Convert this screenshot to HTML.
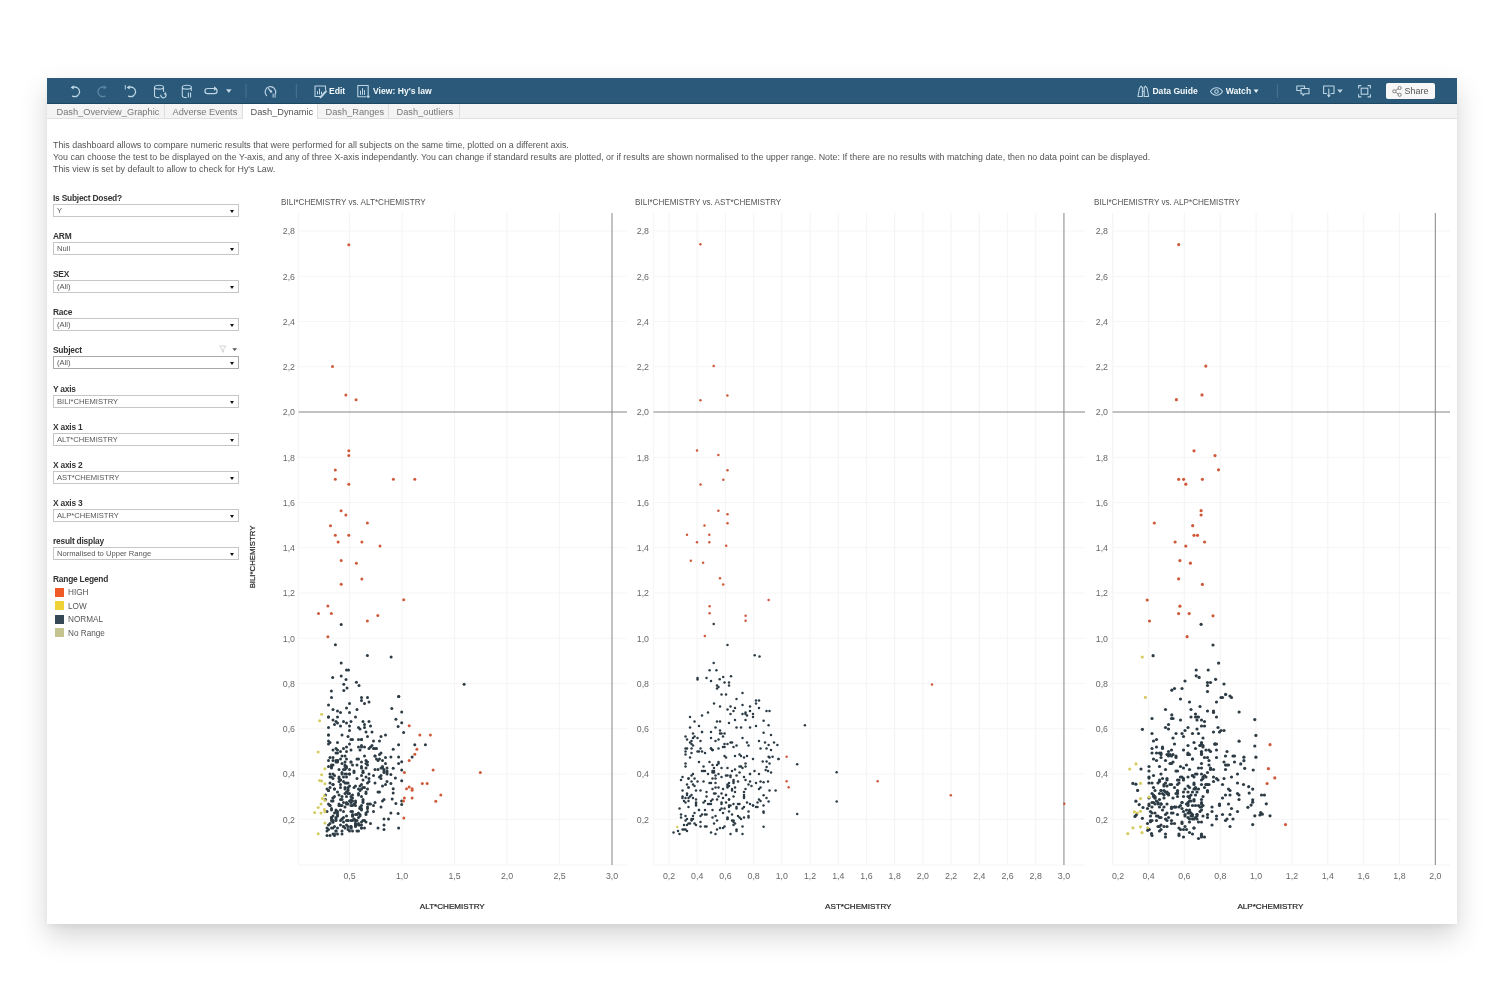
<!DOCTYPE html><html><head><meta charset="utf-8"><style>
*{margin:0;padding:0;box-sizing:border-box}
html,body{width:1504px;height:1002px;overflow:hidden;background:#fff;font-family:"Liberation Sans",sans-serif}
body{filter:blur(0.3px)}
.a{position:absolute;white-space:nowrap}
#frame{position:absolute;left:47px;top:78px;width:1410px;height:846px;background:#fff;box-shadow:0 12px 26px rgba(0,0,0,0.17),0 3px 5px rgba(0,0,0,0.04)}
#tb{position:absolute;left:47px;top:78px;width:1410px;height:26px;background:#2a5979;border-bottom:1px solid #1d4862}
#tabs{position:absolute;left:47px;top:104px;width:1410px;height:15px;background:#f4f4f4;border-bottom:1px solid #e0e0e0}
.tab{position:absolute;top:104px;height:14px;font-size:9.25px;color:#777;line-height:14px;border-right:1px solid #dedede;padding-left:6px}
.desc{font-size:8.9px;color:#555;line-height:12px}
.fl{font-size:8.4px;color:#333;font-weight:bold;letter-spacing:-0.22px}
.dd{position:absolute;left:53px;width:186px;height:13px;border:1px solid #c6c6c6;background:#fff;font-size:7.6px;color:#555;line-height:11px;padding-left:3px}
.dd:after{content:"";position:absolute;right:4px;top:5px;border-left:2.5px solid transparent;border-right:2.5px solid transparent;border-top:3px solid #111}
.lg{font-size:8.2px;color:#555}
.tw{color:#f4f8fb;font-weight:bold;font-size:8.6px}
.ct{font-size:8.15px;color:#555}
.al{font-size:8.8px;color:#686868}
.xt{font-size:8.1px;color:#1e1e1e;-webkit-text-stroke:0.2px #1e1e1e}
</style></head><body>
<div id="frame"></div><div id="tb"></div><div id="tabs"></div>
<div class="a tab" style="left:49px;width:116px;"><span style="position:absolute;left:7.5px;top:0.5px">Dash_Overview_Graphic</span></div>
<div class="a tab" style="left:165px;width:78px;"><span style="position:absolute;left:7.5px;top:0.5px">Adverse Events</span></div>
<div class="a tab" style="left:243px;width:75px;background:#fff;height:15px;color:#555;"><span style="position:absolute;left:7.5px;top:0.5px">Dash_Dynamic</span></div>
<div class="a tab" style="left:318px;width:71px;"><span style="position:absolute;left:7.5px;top:0.5px">Dash_Ranges</span></div>
<div class="a tab" style="left:389px;width:71px;"><span style="position:absolute;left:7.5px;top:0.5px">Dash_outliers</span></div>
<div class="a desc" style="left:53px;top:139.0px">This dashboard allows to compare numeric results that were performed for all subjects on the same time, plotted on a different axis.</div>
<div class="a desc" style="left:53px;top:151.1px">You can choose the test to be displayed on the Y-axis, and any of three X-axis independantly. You can change if standard results are plotted, or if results are shown normalised to the upper range. Note: If there are no results with matching date, then no data point can be displayed.</div>
<div class="a desc" style="left:53px;top:163.2px">This view is set by default to allow to check for Hy's Law.</div>
<div class="a fl" style="left:53px;top:193.0px">Is Subject Dosed?</div>
<div class="dd" style="top:204.0px;">Y</div>
<div class="a fl" style="left:53px;top:231.1px">ARM</div>
<div class="dd" style="top:242.1px;">Null</div>
<div class="a fl" style="left:53px;top:269.2px">SEX</div>
<div class="dd" style="top:280.2px;">(All)</div>
<div class="a fl" style="left:53px;top:307.3px">Race</div>
<div class="dd" style="top:318.3px;">(All)</div>
<div class="a fl" style="left:53px;top:345.4px">Subject</div>
<div class="dd" style="top:356.4px;border-color:#a9a9a9;">(All)</div>
<div class="a fl" style="left:53px;top:383.5px">Y axis</div>
<div class="dd" style="top:394.5px;">BILI*CHEMISTRY</div>
<div class="a fl" style="left:53px;top:421.6px">X axis 1</div>
<div class="dd" style="top:432.6px;">ALT*CHEMISTRY</div>
<div class="a fl" style="left:53px;top:459.7px">X axis 2</div>
<div class="dd" style="top:470.7px;">AST*CHEMISTRY</div>
<div class="a fl" style="left:53px;top:497.8px">X axis 3</div>
<div class="dd" style="top:508.8px;">ALP*CHEMISTRY</div>
<div class="a fl" style="left:53px;top:535.9000000000001px">result display</div>
<div class="dd" style="top:546.9000000000001px;">Normalised to Upper Range</div>
<svg class="a" style="left:216px;top:343px" width="24" height="12"><path d="M3.6 3h6.4l-2.4 3.2v3l-1.6-0.8v-2.2z" fill="none" stroke="#d0d0d0" stroke-width="0.9"/><path d="M16.3 5.2h4.8l-2.4 2.8z" fill="#555"/></svg>
<div class="a fl" style="left:53px;top:574px">Range Legend</div>
<div class="a" style="left:55px;top:587.5px;width:9px;height:9px;background:#f05a28"></div>
<div class="a lg" style="left:68px;top:588.0px">HIGH</div>
<div class="a" style="left:55px;top:601.1px;width:9px;height:9px;background:#eed236"></div>
<div class="a lg" style="left:68px;top:601.6px">LOW</div>
<div class="a" style="left:55px;top:614.7px;width:9px;height:9px;background:#364756"></div>
<div class="a lg" style="left:68px;top:615.2px">NORMAL</div>
<div class="a" style="left:55px;top:628.3px;width:9px;height:9px;background:#c5c38f"></div>
<div class="a lg" style="left:68px;top:628.8px">No Range</div>
<svg class="a" style="left:0;top:78px" width="1504" height="26"><path d="M72.5 9.5 A5 4.8 0 1 1 72.5 18.2" fill="none" stroke="#bdd5e5" stroke-width="1.3" stroke-linecap="round" stroke-linejoin="round"/><path d="M70.6 9.6 L73.6 7.2 L73.8 11.6 Z" fill="#bdd5e5"/><path d="M105 9.5 A5 4.8 0 1 0 105 18.2" fill="none" stroke="#5b86a2" stroke-width="1.3" stroke-linecap="round" stroke-linejoin="round"/><path d="M106.8 9.6 L103.8 7.2 L103.6 11.6 Z" fill="#5b86a2"/><path d="M128.5 9.5 A5 4.8 0 1 1 128.5 18.2" fill="none" stroke="#bdd5e5" stroke-width="1.3" stroke-linecap="round" stroke-linejoin="round"/><path d="M126.6 9.6 L129.6 7.2 L129.8 11.6 Z" fill="#bdd5e5"/><path d="M125.3 7.5 V11" fill="none" stroke="#bdd5e5" stroke-width="1.0" stroke-linecap="round" stroke-linejoin="round"/><path d="M154.5 9.2 C154.5 6.6 163.5 6.6 163.5 9.2 C163.5 11.8 154.5 11.8 154.5 9.2 V17.5 C154.5 19.2 157 19.6 159 19.6 M163.5 9.2 V13.5" fill="none" stroke="#bdd5e5" stroke-width="1.1" stroke-linecap="round" stroke-linejoin="round"/><path d="M160.8 17.2 A2.6 2.6 0 1 0 165.8 16.2" fill="none" stroke="#bdd5e5" stroke-width="1.2" stroke-linecap="round" stroke-linejoin="round"/><path d="M165.9 13.8 L166.4 17 L163.6 16.2 Z" fill="#bdd5e5"/><path d="M182.3 9.2 C182.3 6.6 191.3 6.6 191.3 9.2 C191.3 11.8 182.3 11.8 182.3 9.2 V17.5 C182.3 19.2 184.8 19.6 186.2 19.6 M191.3 9.2 V12.5" fill="none" stroke="#bdd5e5" stroke-width="1.1" stroke-linecap="round" stroke-linejoin="round"/><rect x="187.8" y="14.5" width="1.1" height="5" fill="#bdd5e5"/><rect x="190" y="14.5" width="1.1" height="5" fill="#bdd5e5"/><path d="M208.5 10.5 H214.5 A2.6 2.6 0 0 1 214.5 15.7 H207.5 A2.6 2.6 0 0 1 207.5 10.5" fill="none" stroke="#bdd5e5" stroke-width="1.2" stroke-linecap="round" stroke-linejoin="round"/><path d="M214 8.2 L217 10.5 L214 12.8 Z" fill="#bdd5e5"/><path d="M226 11.3 H231.6 L228.8 15 Z" fill="#bdd5e5"/><line x1="246" y1="6" x2="246" y2="20" stroke="#4a7492" stroke-width="1"/><path d="M266.5 17.5 A5.3 5.3 0 1 1 275.5 15.5" fill="none" stroke="#bdd5e5" stroke-width="1.2" stroke-linecap="round" stroke-linejoin="round"/><path d="M268.5 10.8 L271 13.4" fill="none" stroke="#bdd5e5" stroke-width="1.3" stroke-linecap="round" stroke-linejoin="round"/><circle cx="271" cy="13.5" r="1.2" fill="#bdd5e5"/><rect x="272.6" y="15.6" width="1" height="4" fill="#bdd5e5"/><rect x="274.6" y="15.6" width="1" height="4" fill="#bdd5e5"/><line x1="296.3" y1="6" x2="296.3" y2="20" stroke="#4a7492" stroke-width="1"/><path d="M321.5 18.5 H315 V8 H325.5 V11.5" fill="none" stroke="#bdd5e5" stroke-width="1.1" stroke-linecap="round" stroke-linejoin="round"/><path d="M317.5 16 V13.5 M319.5 16 V11 M321.5 16 V14" fill="none" stroke="#bdd5e5" stroke-width="1" stroke-linecap="round" stroke-linejoin="round"/><path d="M320.5 19.2 L326 13.2" fill="none" stroke="#bdd5e5" stroke-width="2.0" stroke-linecap="round" stroke-linejoin="round"/><path d="M357.8 7.5 H368.2 V17 M366 18.8 H357.8 V7.5" fill="none" stroke="#bdd5e5" stroke-width="1.1" stroke-linecap="round" stroke-linejoin="round"/><path d="M360.5 16.5 V13 M362.5 16.5 V10.5 M364.5 16.5 V12.5" fill="none" stroke="#bdd5e5" stroke-width="1" stroke-linecap="round" stroke-linejoin="round"/><circle cx="368.2" cy="18.6" r="1.4" fill="#bdd5e5"/><path d="M1138 18.5 L1139.4 10.5 L1141 8.2 L1142.4 9.5 V18.5 Z M1148.6 18.5 L1147.2 10.5 L1145.6 8.2 L1144.2 9.5 V18.5 Z M1142.4 13.5 H1144.2" fill="none" stroke="#bdd5e5" stroke-width="1.1" stroke-linecap="round" stroke-linejoin="round"/><path d="M1210.5 13.5 C1213.5 8.5 1219.5 8.5 1222.5 13.5 C1219.5 18.5 1213.5 18.5 1210.5 13.5 Z" fill="none" stroke="#bdd5e5" stroke-width="1.1" stroke-linecap="round" stroke-linejoin="round"/><circle cx="1216.5" cy="13.5" r="1.8" fill="none" stroke="#bdd5e5" stroke-width="1.1"/><path d="M1253.6 11.5 H1258.6 L1256.1 15 Z" fill="#e8f0f5"/><line x1="1277.4" y1="6" x2="1277.4" y2="20" stroke="#4a7492" stroke-width="1"/><path d="M1300.5 12.5 H1296.8 V8 H1304.5 V10" fill="none" stroke="#bdd5e5" stroke-width="1.1" stroke-linecap="round" stroke-linejoin="round"/><path d="M1301 10.5 H1309 V15.8 H1304.5 L1303 17.5 V15.8 H1301 Z" fill="none" stroke="#bdd5e5" stroke-width="1.1" stroke-linecap="round" stroke-linejoin="round"/><path d="M1326.5 15.5 H1323.6 V8 H1334 V15.5 H1331" fill="none" stroke="#bdd5e5" stroke-width="1.1" stroke-linecap="round" stroke-linejoin="round"/><path d="M1328.8 11 V18.5" fill="none" stroke="#bdd5e5" stroke-width="1.1" stroke-linecap="round" stroke-linejoin="round"/><path d="M1326.8 16.8 H1330.8 L1328.8 19.6 Z" fill="#bdd5e5"/><path d="M1337.2 11.6 H1342.8 L1340 15 Z" fill="#bdd5e5"/><path d="M1358.6 10 V7.6 H1361 M1368 7.6 H1370.4 V10 M1370.4 16.5 V18.9 H1368 M1361 18.9 H1358.6 V16.5" fill="none" stroke="#bdd5e5" stroke-width="1.1" stroke-linecap="round" stroke-linejoin="round"/><rect x="1361.2" y="10.2" width="6.6" height="6" fill="none" stroke="#bdd5e5" stroke-width="1.1"/></svg><div class="a tw" style="left:329px;top:86.2px">Edit</div><div class="a tw" style="left:373px;top:86.2px">View: Hy's law</div><div class="a tw" style="left:1152.4px;top:86.2px">Data Guide</div><div class="a tw" style="left:1225.7px;top:86.2px">Watch</div><div class="a" style="left:1386px;top:83px;width:49px;height:16px;background:#f7f7f7;border-radius:2px"></div><svg class="a" style="left:1390px;top:83px" width="14" height="16"><g fill="none" stroke="#777" stroke-width="0.9"><circle cx="4.3" cy="8.3" r="1.6"/><circle cx="9.6" cy="5" r="1.6"/><circle cx="9.6" cy="11.8" r="1.6"/><path d="M5.7 7.4 L8.2 5.8 M5.7 9.2 L8.2 10.9"/></g></svg><div class="a" style="left:1404.5px;top:85.5px;font-size:9px;color:#555">Share</div>
<svg class="a" style="left:0;top:0" width="1504" height="1002" shape-rendering="auto"><line x1="298.5" y1="819.25" x2="627" y2="819.25" stroke="#f5f5f5" stroke-width="1.2"/><line x1="298.5" y1="774.00" x2="627" y2="774.00" stroke="#f5f5f5" stroke-width="1.2"/><line x1="298.5" y1="728.75" x2="627" y2="728.75" stroke="#f5f5f5" stroke-width="1.2"/><line x1="298.5" y1="683.50" x2="627" y2="683.50" stroke="#f5f5f5" stroke-width="1.2"/><line x1="298.5" y1="638.25" x2="627" y2="638.25" stroke="#f5f5f5" stroke-width="1.2"/><line x1="298.5" y1="593.00" x2="627" y2="593.00" stroke="#f5f5f5" stroke-width="1.2"/><line x1="298.5" y1="547.75" x2="627" y2="547.75" stroke="#f5f5f5" stroke-width="1.2"/><line x1="298.5" y1="502.50" x2="627" y2="502.50" stroke="#f5f5f5" stroke-width="1.2"/><line x1="298.5" y1="457.25" x2="627" y2="457.25" stroke="#f5f5f5" stroke-width="1.2"/><line x1="298.5" y1="366.75" x2="627" y2="366.75" stroke="#f5f5f5" stroke-width="1.2"/><line x1="298.5" y1="321.50" x2="627" y2="321.50" stroke="#f5f5f5" stroke-width="1.2"/><line x1="298.5" y1="276.25" x2="627" y2="276.25" stroke="#f5f5f5" stroke-width="1.2"/><line x1="298.5" y1="231.00" x2="627" y2="231.00" stroke="#f5f5f5" stroke-width="1.2"/><line x1="298.5" y1="865" x2="627" y2="865" stroke="#f6f6f6" stroke-width="1.2"/><line x1="298.5" y1="213" x2="298.5" y2="865" stroke="#f6f6f6" stroke-width="1.2"/><line x1="349.50" y1="213" x2="349.50" y2="865" stroke="#f5f5f5" stroke-width="1.2"/><line x1="402.00" y1="213" x2="402.00" y2="865" stroke="#f5f5f5" stroke-width="1.2"/><line x1="454.50" y1="213" x2="454.50" y2="865" stroke="#f5f5f5" stroke-width="1.2"/><line x1="507.00" y1="213" x2="507.00" y2="865" stroke="#f5f5f5" stroke-width="1.2"/><line x1="559.50" y1="213" x2="559.50" y2="865" stroke="#f5f5f5" stroke-width="1.2"/><line x1="298.5" y1="412.00" x2="627" y2="412.00" stroke="#858585" stroke-width="1"/><line x1="612.00" y1="213" x2="612.00" y2="865" stroke="#858585" stroke-width="1"/><line x1="653.5" y1="819.25" x2="1085" y2="819.25" stroke="#f5f5f5" stroke-width="1.2"/><line x1="653.5" y1="774.00" x2="1085" y2="774.00" stroke="#f5f5f5" stroke-width="1.2"/><line x1="653.5" y1="728.75" x2="1085" y2="728.75" stroke="#f5f5f5" stroke-width="1.2"/><line x1="653.5" y1="683.50" x2="1085" y2="683.50" stroke="#f5f5f5" stroke-width="1.2"/><line x1="653.5" y1="638.25" x2="1085" y2="638.25" stroke="#f5f5f5" stroke-width="1.2"/><line x1="653.5" y1="593.00" x2="1085" y2="593.00" stroke="#f5f5f5" stroke-width="1.2"/><line x1="653.5" y1="547.75" x2="1085" y2="547.75" stroke="#f5f5f5" stroke-width="1.2"/><line x1="653.5" y1="502.50" x2="1085" y2="502.50" stroke="#f5f5f5" stroke-width="1.2"/><line x1="653.5" y1="457.25" x2="1085" y2="457.25" stroke="#f5f5f5" stroke-width="1.2"/><line x1="653.5" y1="366.75" x2="1085" y2="366.75" stroke="#f5f5f5" stroke-width="1.2"/><line x1="653.5" y1="321.50" x2="1085" y2="321.50" stroke="#f5f5f5" stroke-width="1.2"/><line x1="653.5" y1="276.25" x2="1085" y2="276.25" stroke="#f5f5f5" stroke-width="1.2"/><line x1="653.5" y1="231.00" x2="1085" y2="231.00" stroke="#f5f5f5" stroke-width="1.2"/><line x1="653.5" y1="865" x2="1085" y2="865" stroke="#f6f6f6" stroke-width="1.2"/><line x1="653.5" y1="213" x2="653.5" y2="865" stroke="#f6f6f6" stroke-width="1.2"/><line x1="669.01" y1="213" x2="669.01" y2="865" stroke="#f5f5f5" stroke-width="1.2"/><line x1="697.22" y1="213" x2="697.22" y2="865" stroke="#f5f5f5" stroke-width="1.2"/><line x1="725.43" y1="213" x2="725.43" y2="865" stroke="#f5f5f5" stroke-width="1.2"/><line x1="753.64" y1="213" x2="753.64" y2="865" stroke="#f5f5f5" stroke-width="1.2"/><line x1="781.85" y1="213" x2="781.85" y2="865" stroke="#f5f5f5" stroke-width="1.2"/><line x1="810.06" y1="213" x2="810.06" y2="865" stroke="#f5f5f5" stroke-width="1.2"/><line x1="838.27" y1="213" x2="838.27" y2="865" stroke="#f5f5f5" stroke-width="1.2"/><line x1="866.48" y1="213" x2="866.48" y2="865" stroke="#f5f5f5" stroke-width="1.2"/><line x1="894.69" y1="213" x2="894.69" y2="865" stroke="#f5f5f5" stroke-width="1.2"/><line x1="922.90" y1="213" x2="922.90" y2="865" stroke="#f5f5f5" stroke-width="1.2"/><line x1="951.11" y1="213" x2="951.11" y2="865" stroke="#f5f5f5" stroke-width="1.2"/><line x1="979.32" y1="213" x2="979.32" y2="865" stroke="#f5f5f5" stroke-width="1.2"/><line x1="1007.53" y1="213" x2="1007.53" y2="865" stroke="#f5f5f5" stroke-width="1.2"/><line x1="1035.74" y1="213" x2="1035.74" y2="865" stroke="#f5f5f5" stroke-width="1.2"/><line x1="653.5" y1="412.00" x2="1085" y2="412.00" stroke="#858585" stroke-width="1"/><line x1="1063.95" y1="213" x2="1063.95" y2="865" stroke="#858585" stroke-width="1"/><line x1="1112.5" y1="819.25" x2="1450" y2="819.25" stroke="#f5f5f5" stroke-width="1.2"/><line x1="1112.5" y1="774.00" x2="1450" y2="774.00" stroke="#f5f5f5" stroke-width="1.2"/><line x1="1112.5" y1="728.75" x2="1450" y2="728.75" stroke="#f5f5f5" stroke-width="1.2"/><line x1="1112.5" y1="683.50" x2="1450" y2="683.50" stroke="#f5f5f5" stroke-width="1.2"/><line x1="1112.5" y1="638.25" x2="1450" y2="638.25" stroke="#f5f5f5" stroke-width="1.2"/><line x1="1112.5" y1="593.00" x2="1450" y2="593.00" stroke="#f5f5f5" stroke-width="1.2"/><line x1="1112.5" y1="547.75" x2="1450" y2="547.75" stroke="#f5f5f5" stroke-width="1.2"/><line x1="1112.5" y1="502.50" x2="1450" y2="502.50" stroke="#f5f5f5" stroke-width="1.2"/><line x1="1112.5" y1="457.25" x2="1450" y2="457.25" stroke="#f5f5f5" stroke-width="1.2"/><line x1="1112.5" y1="366.75" x2="1450" y2="366.75" stroke="#f5f5f5" stroke-width="1.2"/><line x1="1112.5" y1="321.50" x2="1450" y2="321.50" stroke="#f5f5f5" stroke-width="1.2"/><line x1="1112.5" y1="276.25" x2="1450" y2="276.25" stroke="#f5f5f5" stroke-width="1.2"/><line x1="1112.5" y1="231.00" x2="1450" y2="231.00" stroke="#f5f5f5" stroke-width="1.2"/><line x1="1112.5" y1="865" x2="1450" y2="865" stroke="#f6f6f6" stroke-width="1.2"/><line x1="1112.5" y1="213" x2="1112.5" y2="865" stroke="#f6f6f6" stroke-width="1.2"/><line x1="1112.74" y1="213" x2="1112.74" y2="865" stroke="#f5f5f5" stroke-width="1.2"/><line x1="1148.58" y1="213" x2="1148.58" y2="865" stroke="#f5f5f5" stroke-width="1.2"/><line x1="1184.42" y1="213" x2="1184.42" y2="865" stroke="#f5f5f5" stroke-width="1.2"/><line x1="1220.26" y1="213" x2="1220.26" y2="865" stroke="#f5f5f5" stroke-width="1.2"/><line x1="1256.10" y1="213" x2="1256.10" y2="865" stroke="#f5f5f5" stroke-width="1.2"/><line x1="1291.94" y1="213" x2="1291.94" y2="865" stroke="#f5f5f5" stroke-width="1.2"/><line x1="1327.78" y1="213" x2="1327.78" y2="865" stroke="#f5f5f5" stroke-width="1.2"/><line x1="1363.62" y1="213" x2="1363.62" y2="865" stroke="#f5f5f5" stroke-width="1.2"/><line x1="1399.46" y1="213" x2="1399.46" y2="865" stroke="#f5f5f5" stroke-width="1.2"/><line x1="1112.5" y1="412.00" x2="1450" y2="412.00" stroke="#858585" stroke-width="1"/><line x1="1435.30" y1="213" x2="1435.30" y2="865" stroke="#858585" stroke-width="1"/></svg>
<div class="a ct" style="left:281px;top:198px">BILI*CHEMISTRY vs. ALT*CHEMISTRY</div><div class="a al" style="right:1209px;top:814.65px">0,2</div><div class="a al" style="right:1209px;top:769.40px">0,4</div><div class="a al" style="right:1209px;top:724.15px">0,6</div><div class="a al" style="right:1209px;top:678.90px">0,8</div><div class="a al" style="right:1209px;top:633.65px">1,0</div><div class="a al" style="right:1209px;top:588.40px">1,2</div><div class="a al" style="right:1209px;top:543.15px">1,4</div><div class="a al" style="right:1209px;top:497.90px">1,6</div><div class="a al" style="right:1209px;top:452.65px">1,8</div><div class="a al" style="right:1209px;top:407.40px">2,0</div><div class="a al" style="right:1209px;top:362.15px">2,2</div><div class="a al" style="right:1209px;top:316.90px">2,4</div><div class="a al" style="right:1209px;top:271.65px">2,6</div><div class="a al" style="right:1209px;top:226.40px">2,8</div><div class="a al" style="left:329.50px;width:40px;text-align:center;top:870.5px">0,5</div><div class="a al" style="left:382.00px;width:40px;text-align:center;top:870.5px">1,0</div><div class="a al" style="left:434.50px;width:40px;text-align:center;top:870.5px">1,5</div><div class="a al" style="left:487.00px;width:40px;text-align:center;top:870.5px">2,0</div><div class="a al" style="left:539.50px;width:40px;text-align:center;top:870.5px">2,5</div><div class="a al" style="left:592.00px;width:40px;text-align:center;top:870.5px">3,0</div><div class="a xt" style="left:392.3px;width:120px;text-align:center;top:901.5px">ALT*CHEMISTRY</div><div class="a ct" style="left:635px;top:198px">BILI*CHEMISTRY vs. AST*CHEMISTRY</div><div class="a al" style="right:855px;top:814.65px">0,2</div><div class="a al" style="right:855px;top:769.40px">0,4</div><div class="a al" style="right:855px;top:724.15px">0,6</div><div class="a al" style="right:855px;top:678.90px">0,8</div><div class="a al" style="right:855px;top:633.65px">1,0</div><div class="a al" style="right:855px;top:588.40px">1,2</div><div class="a al" style="right:855px;top:543.15px">1,4</div><div class="a al" style="right:855px;top:497.90px">1,6</div><div class="a al" style="right:855px;top:452.65px">1,8</div><div class="a al" style="right:855px;top:407.40px">2,0</div><div class="a al" style="right:855px;top:362.15px">2,2</div><div class="a al" style="right:855px;top:316.90px">2,4</div><div class="a al" style="right:855px;top:271.65px">2,6</div><div class="a al" style="right:855px;top:226.40px">2,8</div><div class="a al" style="left:649.01px;width:40px;text-align:center;top:870.5px">0,2</div><div class="a al" style="left:677.22px;width:40px;text-align:center;top:870.5px">0,4</div><div class="a al" style="left:705.43px;width:40px;text-align:center;top:870.5px">0,6</div><div class="a al" style="left:733.64px;width:40px;text-align:center;top:870.5px">0,8</div><div class="a al" style="left:761.85px;width:40px;text-align:center;top:870.5px">1,0</div><div class="a al" style="left:790.06px;width:40px;text-align:center;top:870.5px">1,2</div><div class="a al" style="left:818.27px;width:40px;text-align:center;top:870.5px">1,4</div><div class="a al" style="left:846.48px;width:40px;text-align:center;top:870.5px">1,6</div><div class="a al" style="left:874.69px;width:40px;text-align:center;top:870.5px">1,8</div><div class="a al" style="left:902.90px;width:40px;text-align:center;top:870.5px">2,0</div><div class="a al" style="left:931.11px;width:40px;text-align:center;top:870.5px">2,2</div><div class="a al" style="left:959.32px;width:40px;text-align:center;top:870.5px">2,4</div><div class="a al" style="left:987.53px;width:40px;text-align:center;top:870.5px">2,6</div><div class="a al" style="left:1015.74px;width:40px;text-align:center;top:870.5px">2,8</div><div class="a al" style="left:1043.95px;width:40px;text-align:center;top:870.5px">3,0</div><div class="a xt" style="left:798.3px;width:120px;text-align:center;top:901.5px">AST*CHEMISTRY</div><div class="a ct" style="left:1094px;top:198px">BILI*CHEMISTRY vs. ALP*CHEMISTRY</div><div class="a al" style="right:396px;top:814.65px">0,2</div><div class="a al" style="right:396px;top:769.40px">0,4</div><div class="a al" style="right:396px;top:724.15px">0,6</div><div class="a al" style="right:396px;top:678.90px">0,8</div><div class="a al" style="right:396px;top:633.65px">1,0</div><div class="a al" style="right:396px;top:588.40px">1,2</div><div class="a al" style="right:396px;top:543.15px">1,4</div><div class="a al" style="right:396px;top:497.90px">1,6</div><div class="a al" style="right:396px;top:452.65px">1,8</div><div class="a al" style="right:396px;top:407.40px">2,0</div><div class="a al" style="right:396px;top:362.15px">2,2</div><div class="a al" style="right:396px;top:316.90px">2,4</div><div class="a al" style="right:396px;top:271.65px">2,6</div><div class="a al" style="right:396px;top:226.40px">2,8</div><div class="a al" style="left:1098.00px;width:40px;text-align:center;top:870.5px">0,2</div><div class="a al" style="left:1128.58px;width:40px;text-align:center;top:870.5px">0,4</div><div class="a al" style="left:1164.42px;width:40px;text-align:center;top:870.5px">0,6</div><div class="a al" style="left:1200.26px;width:40px;text-align:center;top:870.5px">0,8</div><div class="a al" style="left:1236.10px;width:40px;text-align:center;top:870.5px">1,0</div><div class="a al" style="left:1271.94px;width:40px;text-align:center;top:870.5px">1,2</div><div class="a al" style="left:1307.78px;width:40px;text-align:center;top:870.5px">1,4</div><div class="a al" style="left:1343.62px;width:40px;text-align:center;top:870.5px">1,6</div><div class="a al" style="left:1379.46px;width:40px;text-align:center;top:870.5px">1,8</div><div class="a al" style="left:1415.30px;width:40px;text-align:center;top:870.5px">2,0</div><div class="a xt" style="left:1210.4px;width:120px;text-align:center;top:901.5px">ALP*CHEMISTRY</div><div class="a xt" style="left:252.3px;top:556.5px;font-size:7.8px;transform:translate(-50%,-50%) rotate(-90deg)">BILI*CHEMISTRY</div>
<svg class="a" style="left:0;top:0" width="1504" height="1002"><circle cx="333.0" cy="709.5" r="1.5" fill="#2c3b44"/><circle cx="361.5" cy="700.5" r="1.5" fill="#2c3b44"/><circle cx="349.5" cy="703.5" r="1.5" fill="#2c3b44"/><circle cx="357.0" cy="709.5" r="1.5" fill="#2c3b44"/><circle cx="331.5" cy="697.5" r="1.5" fill="#2c3b44"/><circle cx="364.5" cy="703.5" r="1.5" fill="#2c3b44"/><circle cx="361.5" cy="697.5" r="1.5" fill="#2c3b44"/><circle cx="346.5" cy="708.0" r="1.5" fill="#2c3b44"/><circle cx="337.5" cy="711.0" r="1.5" fill="#2c3b44"/><circle cx="367.5" cy="697.5" r="1.5" fill="#2c3b44"/><circle cx="328.5" cy="705.0" r="1.5" fill="#2c3b44"/><circle cx="369.0" cy="702.0" r="1.5" fill="#2c3b44"/><circle cx="336.0" cy="721.5" r="1.5" fill="#2c3b44"/><circle cx="328.5" cy="717.0" r="1.5" fill="#2c3b44"/><circle cx="346.5" cy="723.0" r="1.5" fill="#2c3b44"/><circle cx="337.5" cy="717.0" r="1.5" fill="#2c3b44"/><circle cx="337.5" cy="723.0" r="1.5" fill="#2c3b44"/><circle cx="340.5" cy="712.5" r="1.5" fill="#2c3b44"/><circle cx="364.5" cy="724.5" r="1.5" fill="#2c3b44"/><circle cx="355.5" cy="717.0" r="1.5" fill="#2c3b44"/><circle cx="372.0" cy="732.0" r="1.5" fill="#2c3b44"/><circle cx="333.0" cy="720.0" r="1.5" fill="#2c3b44"/><circle cx="360.0" cy="729.0" r="1.5" fill="#2c3b44"/><circle cx="369.0" cy="721.5" r="1.5" fill="#2c3b44"/><circle cx="364.5" cy="727.5" r="1.5" fill="#2c3b44"/><circle cx="340.5" cy="726.0" r="1.5" fill="#2c3b44"/><circle cx="366.0" cy="732.0" r="1.5" fill="#2c3b44"/><circle cx="349.5" cy="726.0" r="1.5" fill="#2c3b44"/><circle cx="328.5" cy="717.0" r="1.5" fill="#2c3b44"/><circle cx="363.0" cy="721.5" r="1.5" fill="#2c3b44"/><circle cx="334.5" cy="724.5" r="1.5" fill="#2c3b44"/><circle cx="358.5" cy="727.5" r="1.5" fill="#2c3b44"/><circle cx="343.5" cy="721.5" r="1.5" fill="#2c3b44"/><circle cx="349.5" cy="730.5" r="1.5" fill="#2c3b44"/><circle cx="351.0" cy="721.5" r="1.5" fill="#2c3b44"/><circle cx="349.5" cy="712.5" r="1.5" fill="#2c3b44"/><circle cx="328.5" cy="727.5" r="1.5" fill="#2c3b44"/><circle cx="370.5" cy="726.0" r="1.5" fill="#2c3b44"/><circle cx="351.0" cy="739.5" r="1.5" fill="#2c3b44"/><circle cx="357.0" cy="759.0" r="1.5" fill="#2c3b44"/><circle cx="373.5" cy="748.5" r="1.5" fill="#2c3b44"/><circle cx="379.5" cy="741.0" r="1.5" fill="#2c3b44"/><circle cx="358.5" cy="759.0" r="1.5" fill="#2c3b44"/><circle cx="361.5" cy="747.0" r="1.5" fill="#2c3b44"/><circle cx="343.5" cy="748.5" r="1.5" fill="#2c3b44"/><circle cx="385.5" cy="735.0" r="1.5" fill="#2c3b44"/><circle cx="375.0" cy="756.0" r="1.5" fill="#2c3b44"/><circle cx="381.0" cy="753.0" r="1.5" fill="#2c3b44"/><circle cx="376.5" cy="748.5" r="1.5" fill="#2c3b44"/><circle cx="361.5" cy="745.5" r="1.5" fill="#2c3b44"/><circle cx="330.0" cy="757.5" r="1.5" fill="#2c3b44"/><circle cx="361.5" cy="739.5" r="1.5" fill="#2c3b44"/><circle cx="358.5" cy="747.0" r="1.5" fill="#2c3b44"/><circle cx="349.5" cy="744.0" r="1.5" fill="#2c3b44"/><circle cx="360.0" cy="750.0" r="1.5" fill="#2c3b44"/><circle cx="364.5" cy="747.0" r="1.5" fill="#2c3b44"/><circle cx="328.5" cy="741.0" r="1.5" fill="#2c3b44"/><circle cx="337.5" cy="750.0" r="1.5" fill="#2c3b44"/><circle cx="379.5" cy="754.5" r="1.5" fill="#2c3b44"/><circle cx="375.0" cy="756.0" r="1.5" fill="#2c3b44"/><circle cx="342.0" cy="756.0" r="1.5" fill="#2c3b44"/><circle cx="367.5" cy="736.5" r="1.5" fill="#2c3b44"/><circle cx="328.5" cy="735.0" r="1.5" fill="#2c3b44"/><circle cx="373.5" cy="741.0" r="1.5" fill="#2c3b44"/><circle cx="333.0" cy="750.0" r="1.5" fill="#2c3b44"/><circle cx="348.0" cy="736.5" r="1.5" fill="#2c3b44"/><circle cx="336.0" cy="748.5" r="1.5" fill="#2c3b44"/><circle cx="337.5" cy="742.5" r="1.5" fill="#2c3b44"/><circle cx="370.5" cy="747.0" r="1.5" fill="#2c3b44"/><circle cx="346.5" cy="747.0" r="1.5" fill="#2c3b44"/><circle cx="328.5" cy="744.0" r="1.5" fill="#2c3b44"/><circle cx="352.5" cy="739.5" r="1.5" fill="#2c3b44"/><circle cx="333.0" cy="757.5" r="1.5" fill="#2c3b44"/><circle cx="358.5" cy="739.5" r="1.5" fill="#2c3b44"/><circle cx="364.5" cy="756.0" r="1.5" fill="#2c3b44"/><circle cx="328.5" cy="735.0" r="1.5" fill="#2c3b44"/><circle cx="336.0" cy="753.0" r="1.5" fill="#2c3b44"/><circle cx="337.5" cy="753.0" r="1.5" fill="#2c3b44"/><circle cx="369.0" cy="748.5" r="1.5" fill="#2c3b44"/><circle cx="340.5" cy="759.0" r="1.5" fill="#2c3b44"/><circle cx="375.0" cy="748.5" r="1.5" fill="#2c3b44"/><circle cx="340.5" cy="751.5" r="1.5" fill="#2c3b44"/><circle cx="351.0" cy="750.0" r="1.5" fill="#2c3b44"/><circle cx="346.5" cy="751.5" r="1.5" fill="#2c3b44"/><circle cx="330.0" cy="742.5" r="1.5" fill="#2c3b44"/><circle cx="385.5" cy="757.5" r="1.5" fill="#2c3b44"/><circle cx="345.0" cy="756.0" r="1.5" fill="#2c3b44"/><circle cx="346.5" cy="759.0" r="1.5" fill="#2c3b44"/><circle cx="372.0" cy="745.5" r="1.5" fill="#2c3b44"/><circle cx="342.0" cy="735.0" r="1.5" fill="#2c3b44"/><circle cx="381.0" cy="736.5" r="1.5" fill="#2c3b44"/><circle cx="376.5" cy="759.0" r="1.5" fill="#2c3b44"/><circle cx="361.5" cy="739.5" r="1.5" fill="#2c3b44"/><circle cx="379.5" cy="759.0" r="1.5" fill="#2c3b44"/><circle cx="369.0" cy="774.0" r="1.5" fill="#2c3b44"/><circle cx="349.5" cy="769.5" r="1.5" fill="#2c3b44"/><circle cx="339.0" cy="778.5" r="1.5" fill="#2c3b44"/><circle cx="352.5" cy="765.0" r="1.5" fill="#2c3b44"/><circle cx="333.0" cy="778.5" r="1.5" fill="#2c3b44"/><circle cx="345.0" cy="774.0" r="1.5" fill="#2c3b44"/><circle cx="346.5" cy="783.0" r="1.5" fill="#2c3b44"/><circle cx="382.5" cy="760.5" r="1.5" fill="#2c3b44"/><circle cx="339.0" cy="769.5" r="1.5" fill="#2c3b44"/><circle cx="387.0" cy="781.5" r="1.5" fill="#2c3b44"/><circle cx="346.5" cy="766.5" r="1.5" fill="#2c3b44"/><circle cx="367.5" cy="783.0" r="1.5" fill="#2c3b44"/><circle cx="384.0" cy="769.5" r="1.5" fill="#2c3b44"/><circle cx="381.0" cy="778.5" r="1.5" fill="#2c3b44"/><circle cx="355.5" cy="786.0" r="1.5" fill="#2c3b44"/><circle cx="340.5" cy="780.0" r="1.5" fill="#2c3b44"/><circle cx="331.5" cy="765.0" r="1.5" fill="#2c3b44"/><circle cx="382.5" cy="766.5" r="1.5" fill="#2c3b44"/><circle cx="373.5" cy="775.5" r="1.5" fill="#2c3b44"/><circle cx="378.0" cy="769.5" r="1.5" fill="#2c3b44"/><circle cx="346.5" cy="768.0" r="1.5" fill="#2c3b44"/><circle cx="379.5" cy="777.0" r="1.5" fill="#2c3b44"/><circle cx="385.5" cy="784.5" r="1.5" fill="#2c3b44"/><circle cx="334.5" cy="775.5" r="1.5" fill="#2c3b44"/><circle cx="333.0" cy="760.5" r="1.5" fill="#2c3b44"/><circle cx="330.0" cy="783.0" r="1.5" fill="#2c3b44"/><circle cx="375.0" cy="783.0" r="1.5" fill="#2c3b44"/><circle cx="346.5" cy="777.0" r="1.5" fill="#2c3b44"/><circle cx="375.0" cy="769.5" r="1.5" fill="#2c3b44"/><circle cx="361.5" cy="766.5" r="1.5" fill="#2c3b44"/><circle cx="331.5" cy="766.5" r="1.5" fill="#2c3b44"/><circle cx="381.0" cy="775.5" r="1.5" fill="#2c3b44"/><circle cx="384.0" cy="772.5" r="1.5" fill="#2c3b44"/><circle cx="343.5" cy="781.5" r="1.5" fill="#2c3b44"/><circle cx="378.0" cy="760.5" r="1.5" fill="#2c3b44"/><circle cx="367.5" cy="762.0" r="1.5" fill="#2c3b44"/><circle cx="333.0" cy="784.5" r="1.5" fill="#2c3b44"/><circle cx="328.5" cy="766.5" r="1.5" fill="#2c3b44"/><circle cx="387.0" cy="771.0" r="1.5" fill="#2c3b44"/><circle cx="333.0" cy="765.0" r="1.5" fill="#2c3b44"/><circle cx="340.5" cy="780.0" r="1.5" fill="#2c3b44"/><circle cx="333.0" cy="784.5" r="1.5" fill="#2c3b44"/><circle cx="349.5" cy="786.0" r="1.5" fill="#2c3b44"/><circle cx="382.5" cy="768.0" r="1.5" fill="#2c3b44"/><circle cx="342.0" cy="772.5" r="1.5" fill="#2c3b44"/><circle cx="331.5" cy="777.0" r="1.5" fill="#2c3b44"/><circle cx="328.5" cy="760.5" r="1.5" fill="#2c3b44"/><circle cx="387.0" cy="768.0" r="1.5" fill="#2c3b44"/><circle cx="363.0" cy="772.5" r="1.5" fill="#2c3b44"/><circle cx="345.0" cy="762.0" r="1.5" fill="#2c3b44"/><circle cx="382.5" cy="786.0" r="1.5" fill="#2c3b44"/><circle cx="385.5" cy="763.5" r="1.5" fill="#2c3b44"/><circle cx="339.0" cy="777.0" r="1.5" fill="#2c3b44"/><circle cx="387.0" cy="774.0" r="1.5" fill="#2c3b44"/><circle cx="369.0" cy="778.5" r="1.5" fill="#2c3b44"/><circle cx="342.0" cy="774.0" r="1.5" fill="#2c3b44"/><circle cx="345.0" cy="766.5" r="1.5" fill="#2c3b44"/><circle cx="331.5" cy="768.0" r="1.5" fill="#2c3b44"/><circle cx="387.0" cy="772.5" r="1.5" fill="#2c3b44"/><circle cx="366.0" cy="777.0" r="1.5" fill="#2c3b44"/><circle cx="384.0" cy="771.0" r="1.5" fill="#2c3b44"/><circle cx="345.0" cy="769.5" r="1.5" fill="#2c3b44"/><circle cx="345.0" cy="783.0" r="1.5" fill="#2c3b44"/><circle cx="381.0" cy="768.0" r="1.5" fill="#2c3b44"/><circle cx="346.5" cy="774.0" r="1.5" fill="#2c3b44"/><circle cx="361.5" cy="775.5" r="1.5" fill="#2c3b44"/><circle cx="337.5" cy="760.5" r="1.5" fill="#2c3b44"/><circle cx="336.0" cy="762.0" r="1.5" fill="#2c3b44"/><circle cx="351.0" cy="762.0" r="1.5" fill="#2c3b44"/><circle cx="330.0" cy="777.0" r="1.5" fill="#2c3b44"/><circle cx="339.0" cy="781.5" r="1.5" fill="#2c3b44"/><circle cx="348.0" cy="783.0" r="1.5" fill="#2c3b44"/><circle cx="333.0" cy="774.0" r="1.5" fill="#2c3b44"/><circle cx="361.5" cy="762.0" r="1.5" fill="#2c3b44"/><circle cx="367.5" cy="765.0" r="1.5" fill="#2c3b44"/><circle cx="360.0" cy="786.0" r="1.5" fill="#2c3b44"/><circle cx="361.5" cy="768.0" r="1.5" fill="#2c3b44"/><circle cx="330.0" cy="774.0" r="1.5" fill="#2c3b44"/><circle cx="366.0" cy="768.0" r="1.5" fill="#2c3b44"/><circle cx="366.0" cy="763.5" r="1.5" fill="#2c3b44"/><circle cx="366.0" cy="760.5" r="1.5" fill="#2c3b44"/><circle cx="340.5" cy="784.5" r="1.5" fill="#2c3b44"/><circle cx="361.5" cy="784.5" r="1.5" fill="#2c3b44"/><circle cx="363.0" cy="780.0" r="1.5" fill="#2c3b44"/><circle cx="357.0" cy="765.0" r="1.5" fill="#2c3b44"/><circle cx="345.0" cy="765.0" r="1.5" fill="#2c3b44"/><circle cx="357.0" cy="778.5" r="1.5" fill="#2c3b44"/><circle cx="337.5" cy="762.0" r="1.5" fill="#2c3b44"/><circle cx="369.0" cy="781.5" r="1.5" fill="#2c3b44"/><circle cx="349.5" cy="774.0" r="1.5" fill="#2c3b44"/><circle cx="363.0" cy="772.5" r="1.5" fill="#2c3b44"/><circle cx="343.5" cy="769.5" r="1.5" fill="#2c3b44"/><circle cx="337.5" cy="760.5" r="1.5" fill="#2c3b44"/><circle cx="354.0" cy="771.0" r="1.5" fill="#2c3b44"/><circle cx="351.0" cy="762.0" r="1.5" fill="#2c3b44"/><circle cx="342.0" cy="763.5" r="1.5" fill="#2c3b44"/><circle cx="331.5" cy="766.5" r="1.5" fill="#2c3b44"/><circle cx="363.0" cy="771.0" r="1.5" fill="#2c3b44"/><circle cx="343.5" cy="777.0" r="1.5" fill="#2c3b44"/><circle cx="336.0" cy="760.5" r="1.5" fill="#2c3b44"/><circle cx="349.5" cy="774.0" r="1.5" fill="#2c3b44"/><circle cx="354.0" cy="772.5" r="1.5" fill="#2c3b44"/><circle cx="355.5" cy="820.5" r="1.5" fill="#2c3b44"/><circle cx="336.0" cy="810.0" r="1.5" fill="#2c3b44"/><circle cx="346.5" cy="796.5" r="1.5" fill="#2c3b44"/><circle cx="343.5" cy="811.5" r="1.5" fill="#2c3b44"/><circle cx="364.5" cy="828.0" r="1.5" fill="#2c3b44"/><circle cx="337.5" cy="816.0" r="1.5" fill="#2c3b44"/><circle cx="328.5" cy="790.5" r="1.5" fill="#2c3b44"/><circle cx="348.0" cy="826.5" r="1.5" fill="#2c3b44"/><circle cx="333.0" cy="822.0" r="1.5" fill="#2c3b44"/><circle cx="363.0" cy="801.0" r="1.5" fill="#2c3b44"/><circle cx="355.5" cy="825.0" r="1.5" fill="#2c3b44"/><circle cx="342.0" cy="819.0" r="1.5" fill="#2c3b44"/><circle cx="357.0" cy="814.5" r="1.5" fill="#2c3b44"/><circle cx="361.5" cy="828.0" r="1.5" fill="#2c3b44"/><circle cx="366.0" cy="813.0" r="1.5" fill="#2c3b44"/><circle cx="333.0" cy="798.0" r="1.5" fill="#2c3b44"/><circle cx="334.5" cy="813.0" r="1.5" fill="#2c3b44"/><circle cx="358.5" cy="789.0" r="1.5" fill="#2c3b44"/><circle cx="354.0" cy="819.0" r="1.5" fill="#2c3b44"/><circle cx="340.5" cy="810.0" r="1.5" fill="#2c3b44"/><circle cx="333.0" cy="820.5" r="1.5" fill="#2c3b44"/><circle cx="327.0" cy="831.0" r="1.5" fill="#2c3b44"/><circle cx="360.0" cy="816.0" r="1.5" fill="#2c3b44"/><circle cx="337.5" cy="828.0" r="1.5" fill="#2c3b44"/><circle cx="366.0" cy="793.5" r="1.5" fill="#2c3b44"/><circle cx="358.5" cy="825.0" r="1.5" fill="#2c3b44"/><circle cx="354.0" cy="819.0" r="1.5" fill="#2c3b44"/><circle cx="345.0" cy="828.0" r="1.5" fill="#2c3b44"/><circle cx="367.5" cy="804.0" r="1.5" fill="#2c3b44"/><circle cx="360.0" cy="807.0" r="1.5" fill="#2c3b44"/><circle cx="333.0" cy="801.0" r="1.5" fill="#2c3b44"/><circle cx="331.5" cy="828.0" r="1.5" fill="#2c3b44"/><circle cx="366.0" cy="792.0" r="1.5" fill="#2c3b44"/><circle cx="351.0" cy="805.5" r="1.5" fill="#2c3b44"/><circle cx="331.5" cy="801.0" r="1.5" fill="#2c3b44"/><circle cx="336.0" cy="820.5" r="1.5" fill="#2c3b44"/><circle cx="325.5" cy="795.0" r="1.5" fill="#2c3b44"/><circle cx="345.0" cy="787.5" r="1.5" fill="#2c3b44"/><circle cx="352.5" cy="814.5" r="1.5" fill="#2c3b44"/><circle cx="361.5" cy="796.5" r="1.5" fill="#2c3b44"/><circle cx="337.5" cy="811.5" r="1.5" fill="#2c3b44"/><circle cx="337.5" cy="813.0" r="1.5" fill="#2c3b44"/><circle cx="336.0" cy="817.5" r="1.5" fill="#2c3b44"/><circle cx="358.5" cy="823.5" r="1.5" fill="#2c3b44"/><circle cx="367.5" cy="811.5" r="1.5" fill="#2c3b44"/><circle cx="346.5" cy="825.0" r="1.5" fill="#2c3b44"/><circle cx="358.5" cy="813.0" r="1.5" fill="#2c3b44"/><circle cx="342.0" cy="799.5" r="1.5" fill="#2c3b44"/><circle cx="330.0" cy="823.5" r="1.5" fill="#2c3b44"/><circle cx="331.5" cy="820.5" r="1.5" fill="#2c3b44"/><circle cx="349.5" cy="831.0" r="1.5" fill="#2c3b44"/><circle cx="358.5" cy="831.0" r="1.5" fill="#2c3b44"/><circle cx="331.5" cy="810.0" r="1.5" fill="#2c3b44"/><circle cx="349.5" cy="801.0" r="1.5" fill="#2c3b44"/><circle cx="346.5" cy="802.5" r="1.5" fill="#2c3b44"/><circle cx="348.0" cy="787.5" r="1.5" fill="#2c3b44"/><circle cx="345.0" cy="807.0" r="1.5" fill="#2c3b44"/><circle cx="339.0" cy="805.5" r="1.5" fill="#2c3b44"/><circle cx="358.5" cy="817.5" r="1.5" fill="#2c3b44"/><circle cx="346.5" cy="816.0" r="1.5" fill="#2c3b44"/><circle cx="342.0" cy="796.5" r="1.5" fill="#2c3b44"/><circle cx="325.5" cy="799.5" r="1.5" fill="#2c3b44"/><circle cx="351.0" cy="826.5" r="1.5" fill="#2c3b44"/><circle cx="361.5" cy="810.0" r="1.5" fill="#2c3b44"/><circle cx="367.5" cy="808.5" r="1.5" fill="#2c3b44"/><circle cx="361.5" cy="805.5" r="1.5" fill="#2c3b44"/><circle cx="357.0" cy="831.0" r="1.5" fill="#2c3b44"/><circle cx="339.0" cy="795.0" r="1.5" fill="#2c3b44"/><circle cx="352.5" cy="811.5" r="1.5" fill="#2c3b44"/><circle cx="340.5" cy="787.5" r="1.5" fill="#2c3b44"/><circle cx="342.0" cy="805.5" r="1.5" fill="#2c3b44"/><circle cx="343.5" cy="826.5" r="1.5" fill="#2c3b44"/><circle cx="351.0" cy="820.5" r="1.5" fill="#2c3b44"/><circle cx="363.0" cy="820.5" r="1.5" fill="#2c3b44"/><circle cx="346.5" cy="820.5" r="1.5" fill="#2c3b44"/><circle cx="352.5" cy="816.0" r="1.5" fill="#2c3b44"/><circle cx="352.5" cy="805.5" r="1.5" fill="#2c3b44"/><circle cx="352.5" cy="816.0" r="1.5" fill="#2c3b44"/><circle cx="366.0" cy="822.0" r="1.5" fill="#2c3b44"/><circle cx="361.5" cy="822.0" r="1.5" fill="#2c3b44"/><circle cx="360.0" cy="814.5" r="1.5" fill="#2c3b44"/><circle cx="340.5" cy="799.5" r="1.5" fill="#2c3b44"/><circle cx="355.5" cy="826.5" r="1.5" fill="#2c3b44"/><circle cx="349.5" cy="793.5" r="1.5" fill="#2c3b44"/><circle cx="361.5" cy="808.5" r="1.5" fill="#2c3b44"/><circle cx="345.0" cy="789.0" r="1.5" fill="#2c3b44"/><circle cx="348.0" cy="820.5" r="1.5" fill="#2c3b44"/><circle cx="343.5" cy="802.5" r="1.5" fill="#2c3b44"/><circle cx="354.0" cy="787.5" r="1.5" fill="#2c3b44"/><circle cx="348.0" cy="829.5" r="1.5" fill="#2c3b44"/><circle cx="355.5" cy="805.5" r="1.5" fill="#2c3b44"/><circle cx="355.5" cy="814.5" r="1.5" fill="#2c3b44"/><circle cx="334.5" cy="796.5" r="1.5" fill="#2c3b44"/><circle cx="363.0" cy="799.5" r="1.5" fill="#2c3b44"/><circle cx="328.5" cy="825.0" r="1.5" fill="#2c3b44"/><circle cx="348.0" cy="804.0" r="1.5" fill="#2c3b44"/><circle cx="348.0" cy="820.5" r="1.5" fill="#2c3b44"/><circle cx="333.0" cy="816.0" r="1.5" fill="#2c3b44"/><circle cx="355.5" cy="823.5" r="1.5" fill="#2c3b44"/><circle cx="337.5" cy="814.5" r="1.5" fill="#2c3b44"/><circle cx="336.0" cy="811.5" r="1.5" fill="#2c3b44"/><circle cx="333.0" cy="822.0" r="1.5" fill="#2c3b44"/><circle cx="363.0" cy="802.5" r="1.5" fill="#2c3b44"/><circle cx="336.0" cy="831.0" r="1.5" fill="#2c3b44"/><circle cx="355.5" cy="825.0" r="1.5" fill="#2c3b44"/><circle cx="327.0" cy="828.0" r="1.5" fill="#2c3b44"/><circle cx="352.5" cy="801.0" r="1.5" fill="#2c3b44"/><circle cx="343.5" cy="822.0" r="1.5" fill="#2c3b44"/><circle cx="358.5" cy="795.0" r="1.5" fill="#2c3b44"/><circle cx="352.5" cy="795.0" r="1.5" fill="#2c3b44"/><circle cx="367.5" cy="807.0" r="1.5" fill="#2c3b44"/><circle cx="364.5" cy="820.5" r="1.5" fill="#2c3b44"/><circle cx="351.0" cy="799.5" r="1.5" fill="#2c3b44"/><circle cx="348.0" cy="793.5" r="1.5" fill="#2c3b44"/><circle cx="331.5" cy="819.0" r="1.5" fill="#2c3b44"/><circle cx="340.5" cy="820.5" r="1.5" fill="#2c3b44"/><circle cx="336.0" cy="819.0" r="1.5" fill="#2c3b44"/><circle cx="355.5" cy="801.0" r="1.5" fill="#2c3b44"/><circle cx="330.0" cy="805.5" r="1.5" fill="#2c3b44"/><circle cx="346.5" cy="792.0" r="1.5" fill="#2c3b44"/><circle cx="334.5" cy="789.0" r="1.5" fill="#2c3b44"/><circle cx="351.0" cy="826.5" r="1.5" fill="#2c3b44"/><circle cx="334.5" cy="789.0" r="1.5" fill="#2c3b44"/><circle cx="355.5" cy="823.5" r="1.5" fill="#2c3b44"/><circle cx="366.0" cy="814.5" r="1.5" fill="#2c3b44"/><circle cx="340.5" cy="825.0" r="1.5" fill="#2c3b44"/><circle cx="331.5" cy="817.5" r="1.5" fill="#2c3b44"/><circle cx="330.0" cy="805.5" r="1.5" fill="#2c3b44"/><circle cx="346.5" cy="804.0" r="1.5" fill="#2c3b44"/><circle cx="333.0" cy="798.0" r="1.5" fill="#2c3b44"/><circle cx="360.0" cy="808.5" r="1.5" fill="#2c3b44"/><circle cx="351.0" cy="796.5" r="1.5" fill="#2c3b44"/><circle cx="355.5" cy="802.5" r="1.5" fill="#2c3b44"/><circle cx="351.0" cy="828.0" r="1.5" fill="#2c3b44"/><circle cx="367.5" cy="789.0" r="1.5" fill="#2c3b44"/><circle cx="360.0" cy="825.0" r="1.5" fill="#2c3b44"/><circle cx="339.0" cy="804.0" r="1.5" fill="#2c3b44"/><circle cx="351.0" cy="828.0" r="1.5" fill="#2c3b44"/><circle cx="343.5" cy="826.5" r="1.5" fill="#2c3b44"/><circle cx="358.5" cy="793.5" r="1.5" fill="#2c3b44"/><circle cx="364.5" cy="787.5" r="1.5" fill="#2c3b44"/><circle cx="331.5" cy="817.5" r="1.5" fill="#2c3b44"/><circle cx="328.5" cy="804.0" r="1.5" fill="#2c3b44"/><circle cx="331.5" cy="808.5" r="1.5" fill="#2c3b44"/><circle cx="361.5" cy="828.0" r="1.5" fill="#2c3b44"/><circle cx="327.0" cy="789.0" r="1.5" fill="#2c3b44"/><circle cx="361.5" cy="789.0" r="1.5" fill="#2c3b44"/><circle cx="337.5" cy="792.0" r="1.5" fill="#2c3b44"/><circle cx="330.0" cy="787.5" r="1.5" fill="#2c3b44"/><circle cx="352.5" cy="820.5" r="1.5" fill="#2c3b44"/><circle cx="355.5" cy="825.0" r="1.5" fill="#2c3b44"/><circle cx="354.0" cy="804.0" r="1.5" fill="#2c3b44"/><circle cx="352.5" cy="831.0" r="1.5" fill="#2c3b44"/><circle cx="352.5" cy="798.0" r="1.5" fill="#2c3b44"/><circle cx="328.5" cy="829.5" r="1.5" fill="#2c3b44"/><circle cx="351.0" cy="802.5" r="1.5" fill="#2c3b44"/><circle cx="351.0" cy="811.5" r="1.5" fill="#2c3b44"/><circle cx="348.0" cy="789.0" r="1.5" fill="#2c3b44"/><circle cx="340.5" cy="805.5" r="1.5" fill="#2c3b44"/><circle cx="334.5" cy="826.5" r="1.5" fill="#2c3b44"/><circle cx="343.5" cy="817.5" r="1.5" fill="#2c3b44"/><circle cx="355.5" cy="820.5" r="1.5" fill="#2c3b44"/><circle cx="357.0" cy="820.5" r="1.5" fill="#2c3b44"/><circle cx="336.0" cy="831.0" r="1.5" fill="#2c3b44"/><circle cx="333.0" cy="828.0" r="1.5" fill="#2c3b44"/><circle cx="361.5" cy="825.0" r="1.5" fill="#2c3b44"/><circle cx="328.5" cy="790.5" r="1.5" fill="#2c3b44"/><circle cx="360.0" cy="808.5" r="1.5" fill="#2c3b44"/><circle cx="342.0" cy="831.0" r="1.5" fill="#2c3b44"/><circle cx="327.0" cy="811.5" r="1.5" fill="#2c3b44"/><circle cx="345.0" cy="793.5" r="1.5" fill="#2c3b44"/><circle cx="342.0" cy="819.0" r="1.5" fill="#2c3b44"/><circle cx="363.0" cy="787.5" r="1.5" fill="#2c3b44"/><circle cx="348.0" cy="790.5" r="1.5" fill="#2c3b44"/><circle cx="360.0" cy="790.5" r="1.5" fill="#2c3b44"/><circle cx="369.0" cy="804.0" r="1.5" fill="#2c3b44"/><circle cx="382.5" cy="801.0" r="1.5" fill="#2c3b44"/><circle cx="370.5" cy="823.5" r="1.5" fill="#2c3b44"/><circle cx="384.0" cy="825.0" r="1.5" fill="#2c3b44"/><circle cx="373.5" cy="805.5" r="1.5" fill="#2c3b44"/><circle cx="373.5" cy="811.5" r="1.5" fill="#2c3b44"/><circle cx="375.0" cy="802.5" r="1.5" fill="#2c3b44"/><circle cx="384.0" cy="829.5" r="1.5" fill="#2c3b44"/><circle cx="379.5" cy="792.0" r="1.5" fill="#2c3b44"/><circle cx="381.0" cy="807.0" r="1.5" fill="#2c3b44"/><circle cx="388.5" cy="819.0" r="1.5" fill="#2c3b44"/><circle cx="384.0" cy="819.0" r="1.5" fill="#2c3b44"/><circle cx="378.0" cy="828.0" r="1.5" fill="#2c3b44"/><circle cx="384.0" cy="799.5" r="1.5" fill="#2c3b44"/><circle cx="370.5" cy="804.0" r="1.5" fill="#2c3b44"/><circle cx="378.0" cy="792.0" r="1.5" fill="#2c3b44"/><circle cx="334.5" cy="834.0" r="1.5" fill="#2c3b44"/><circle cx="327.0" cy="835.5" r="1.5" fill="#2c3b44"/><circle cx="342.0" cy="834.0" r="1.5" fill="#2c3b44"/><circle cx="333.0" cy="834.0" r="1.5" fill="#2c3b44"/><circle cx="334.5" cy="835.5" r="1.5" fill="#2c3b44"/><circle cx="337.5" cy="834.0" r="1.5" fill="#2c3b44"/><circle cx="330.0" cy="835.5" r="1.5" fill="#2c3b44"/><circle cx="348.8" cy="244.7" r="1.5" fill="#cf5a3a"/><circle cx="332.5" cy="366.4" r="1.5" fill="#cf5a3a"/><circle cx="345.9" cy="394.9" r="1.5" fill="#cf5a3a"/><circle cx="356.1" cy="399.7" r="1.5" fill="#cf5a3a"/><circle cx="348.8" cy="450.8" r="1.5" fill="#cf5a3a"/><circle cx="348.8" cy="455.6" r="1.5" fill="#cf5a3a"/><circle cx="335.3" cy="470" r="1.5" fill="#cf5a3a"/><circle cx="335.3" cy="479.3" r="1.5" fill="#cf5a3a"/><circle cx="393.4" cy="479.3" r="1.5" fill="#cf5a3a"/><circle cx="414.8" cy="479.3" r="1.5" fill="#cf5a3a"/><circle cx="348.8" cy="484.3" r="1.5" fill="#cf5a3a"/><circle cx="341.1" cy="510.7" r="1.5" fill="#cf5a3a"/><circle cx="345.9" cy="514.9" r="1.5" fill="#cf5a3a"/><circle cx="367.4" cy="522.9" r="1.5" fill="#cf5a3a"/><circle cx="330.5" cy="525.7" r="1.5" fill="#cf5a3a"/><circle cx="335.3" cy="535.2" r="1.5" fill="#cf5a3a"/><circle cx="348.8" cy="535.2" r="1.5" fill="#cf5a3a"/><circle cx="338.1" cy="542.1" r="1.5" fill="#cf5a3a"/><circle cx="361.9" cy="542.1" r="1.5" fill="#cf5a3a"/><circle cx="380.0" cy="546" r="1.5" fill="#cf5a3a"/><circle cx="341.2" cy="560.5" r="1.5" fill="#cf5a3a"/><circle cx="356.4" cy="563.2" r="1.5" fill="#cf5a3a"/><circle cx="361.9" cy="578.9" r="1.5" fill="#cf5a3a"/><circle cx="341.2" cy="584.2" r="1.5" fill="#cf5a3a"/><circle cx="403.7" cy="599.8" r="1.5" fill="#cf5a3a"/><circle cx="327.9" cy="605.9" r="1.5" fill="#cf5a3a"/><circle cx="318.5" cy="613.6" r="1.5" fill="#cf5a3a"/><circle cx="331.4" cy="613.6" r="1.5" fill="#cf5a3a"/><circle cx="377.8" cy="615.5" r="1.5" fill="#cf5a3a"/><circle cx="367.4" cy="621.1" r="1.5" fill="#cf5a3a"/><circle cx="327.9" cy="636.7" r="1.5" fill="#cf5a3a"/><circle cx="341.2" cy="624.4" r="1.5" fill="#2c3b44"/><circle cx="335.4" cy="644.8" r="1.5" fill="#2c3b44"/><circle cx="367.4" cy="655.5" r="1.5" fill="#2c3b44"/><circle cx="391.1" cy="657" r="1.5" fill="#2c3b44"/><circle cx="341.2" cy="663" r="1.5" fill="#2c3b44"/><circle cx="346.5" cy="670" r="1.5" fill="#2c3b44"/><circle cx="348.5" cy="670" r="1.5" fill="#2c3b44"/><circle cx="332.7" cy="677.5" r="1.5" fill="#2c3b44"/><circle cx="341.2" cy="676" r="1.5" fill="#2c3b44"/><circle cx="346" cy="679.4" r="1.5" fill="#2c3b44"/><circle cx="356.4" cy="682.3" r="1.5" fill="#2c3b44"/><circle cx="359" cy="685.6" r="1.5" fill="#2c3b44"/><circle cx="343.8" cy="684.2" r="1.5" fill="#2c3b44"/><circle cx="347" cy="688" r="1.5" fill="#2c3b44"/><circle cx="343.8" cy="690.5" r="1.5" fill="#2c3b44"/><circle cx="331.4" cy="691" r="1.5" fill="#2c3b44"/><circle cx="398.8" cy="696.5" r="1.5" fill="#2c3b44"/><circle cx="464.1" cy="684.2" r="1.5" fill="#2c3b44"/><circle cx="398.6" cy="696.4" r="1.5" fill="#2c3b44"/><circle cx="391.8" cy="708.5" r="1.5" fill="#2c3b44"/><circle cx="401.7" cy="712.1" r="1.5" fill="#2c3b44"/><circle cx="395.9" cy="719.2" r="1.5" fill="#2c3b44"/><circle cx="401.7" cy="722.8" r="1.5" fill="#2c3b44"/><circle cx="398.1" cy="726.4" r="1.5" fill="#2c3b44"/><circle cx="403.6" cy="732.4" r="1.5" fill="#2c3b44"/><circle cx="398.6" cy="744.7" r="1.5" fill="#2c3b44"/><circle cx="414.8" cy="744.7" r="1.5" fill="#2c3b44"/><circle cx="425.4" cy="744.7" r="1.5" fill="#2c3b44"/><circle cx="393.2" cy="749.2" r="1.5" fill="#2c3b44"/><circle cx="412.1" cy="757" r="1.5" fill="#2c3b44"/><circle cx="398.6" cy="757" r="1.5" fill="#2c3b44"/><circle cx="390.9" cy="757" r="1.5" fill="#2c3b44"/><circle cx="401.7" cy="761.8" r="1.5" fill="#2c3b44"/><circle cx="398.6" cy="763.6" r="1.5" fill="#2c3b44"/><circle cx="393.2" cy="768.3" r="1.5" fill="#2c3b44"/><circle cx="401.7" cy="769.9" r="1.5" fill="#2c3b44"/><circle cx="390.9" cy="774.4" r="1.5" fill="#2c3b44"/><circle cx="395.4" cy="778" r="1.5" fill="#2c3b44"/><circle cx="401.7" cy="780.8" r="1.5" fill="#2c3b44"/><circle cx="390.9" cy="783.5" r="1.5" fill="#2c3b44"/><circle cx="393.2" cy="788.7" r="1.5" fill="#2c3b44"/><circle cx="393.2" cy="792.9" r="1.5" fill="#2c3b44"/><circle cx="392.2" cy="799.1" r="1.5" fill="#2c3b44"/><circle cx="401.7" cy="800.9" r="1.5" fill="#2c3b44"/><circle cx="395.9" cy="803.6" r="1.5" fill="#2c3b44"/><circle cx="401.7" cy="804.5" r="1.5" fill="#2c3b44"/><circle cx="390.9" cy="813.1" r="1.5" fill="#2c3b44"/><circle cx="398.1" cy="813.5" r="1.5" fill="#2c3b44"/><circle cx="398.6" cy="827.9" r="1.5" fill="#2c3b44"/><circle cx="409.2" cy="725.7" r="1.5" fill="#cf5a3a"/><circle cx="419.8" cy="735" r="1.5" fill="#cf5a3a"/><circle cx="430.4" cy="735" r="1.5" fill="#cf5a3a"/><circle cx="416.9" cy="749.2" r="1.5" fill="#cf5a3a"/><circle cx="414.8" cy="754.3" r="1.5" fill="#cf5a3a"/><circle cx="409.2" cy="760.5" r="1.5" fill="#cf5a3a"/><circle cx="433.1" cy="769.9" r="1.5" fill="#cf5a3a"/><circle cx="404.4" cy="772.6" r="1.5" fill="#cf5a3a"/><circle cx="480.3" cy="772.6" r="1.5" fill="#cf5a3a"/><circle cx="422.3" cy="783.5" r="1.5" fill="#cf5a3a"/><circle cx="427.2" cy="783.5" r="1.5" fill="#cf5a3a"/><circle cx="406.5" cy="788.7" r="1.5" fill="#cf5a3a"/><circle cx="409.2" cy="786.9" r="1.5" fill="#cf5a3a"/><circle cx="412.1" cy="788.7" r="1.5" fill="#cf5a3a"/><circle cx="412.1" cy="790.2" r="1.5" fill="#cf5a3a"/><circle cx="440.8" cy="795" r="1.5" fill="#cf5a3a"/><circle cx="404.4" cy="797.9" r="1.5" fill="#cf5a3a"/><circle cx="412.1" cy="797.9" r="1.5" fill="#cf5a3a"/><circle cx="403.5" cy="800.9" r="1.5" fill="#cf5a3a"/><circle cx="435.8" cy="801.3" r="1.5" fill="#cf5a3a"/><circle cx="403.8" cy="818" r="1.5" fill="#cf5a3a"/><circle cx="321.6" cy="714.2" r="1.5" fill="#d6cd62"/><circle cx="319.6" cy="720.7" r="1.5" fill="#d6cd62"/><circle cx="318.2" cy="752" r="1.5" fill="#d6cd62"/><circle cx="324.9" cy="768.7" r="1.5" fill="#d6cd62"/><circle cx="321.6" cy="774.7" r="1.5" fill="#d6cd62"/><circle cx="319.6" cy="780.6" r="1.5" fill="#d6cd62"/><circle cx="321.6" cy="781" r="1.5" fill="#d6cd62"/><circle cx="324.9" cy="783.8" r="1.5" fill="#d6cd62"/><circle cx="324.4" cy="795.7" r="1.5" fill="#d6cd62"/><circle cx="322.3" cy="798.5" r="1.5" fill="#d6cd62"/><circle cx="324.9" cy="800.6" r="1.5" fill="#d6cd62"/><circle cx="321" cy="804" r="1.5" fill="#d6cd62"/><circle cx="318.2" cy="807.5" r="1.5" fill="#d6cd62"/><circle cx="324.4" cy="809.6" r="1.5" fill="#d6cd62"/><circle cx="314.7" cy="812.4" r="1.5" fill="#d6cd62"/><circle cx="321" cy="813.1" r="1.5" fill="#d6cd62"/><circle cx="324.9" cy="811.7" r="1.5" fill="#d6cd62"/><circle cx="324.9" cy="822.9" r="1.5" fill="#d6cd62"/><circle cx="318.2" cy="833.8" r="1.5" fill="#d6cd62"/></svg>
<svg class="a" style="left:0;top:0" width="1504" height="1002"><circle cx="742.5" cy="705.0" r="1.25" fill="#2c3b44"/><circle cx="697.5" cy="679.5" r="1.25" fill="#2c3b44"/><circle cx="736.5" cy="699.0" r="1.25" fill="#2c3b44"/><circle cx="729.0" cy="685.5" r="1.25" fill="#2c3b44"/><circle cx="726.0" cy="694.5" r="1.25" fill="#2c3b44"/><circle cx="724.5" cy="682.5" r="1.25" fill="#2c3b44"/><circle cx="717.0" cy="688.5" r="1.25" fill="#2c3b44"/><circle cx="730.5" cy="706.5" r="1.25" fill="#2c3b44"/><circle cx="742.5" cy="693.0" r="1.25" fill="#2c3b44"/><circle cx="717.0" cy="685.5" r="1.25" fill="#2c3b44"/><circle cx="697.5" cy="678.0" r="1.25" fill="#2c3b44"/><circle cx="718.5" cy="687.0" r="1.25" fill="#2c3b44"/><circle cx="714.0" cy="703.5" r="1.25" fill="#2c3b44"/><circle cx="721.5" cy="694.5" r="1.25" fill="#2c3b44"/><circle cx="706.5" cy="678.0" r="1.25" fill="#2c3b44"/><circle cx="711.0" cy="681.0" r="1.25" fill="#2c3b44"/><circle cx="720.0" cy="706.5" r="1.25" fill="#2c3b44"/><circle cx="729.0" cy="682.5" r="1.25" fill="#2c3b44"/><circle cx="759.0" cy="700.5" r="1.25" fill="#2c3b44"/><circle cx="756.0" cy="703.5" r="1.25" fill="#2c3b44"/><circle cx="756.0" cy="700.5" r="1.25" fill="#2c3b44"/><circle cx="750.0" cy="706.5" r="1.25" fill="#2c3b44"/><circle cx="750.0" cy="711.0" r="1.25" fill="#2c3b44"/><circle cx="736.5" cy="727.5" r="1.25" fill="#2c3b44"/><circle cx="717.0" cy="721.5" r="1.25" fill="#2c3b44"/><circle cx="720.0" cy="733.5" r="1.25" fill="#2c3b44"/><circle cx="720.0" cy="730.5" r="1.25" fill="#2c3b44"/><circle cx="711.0" cy="732.0" r="1.25" fill="#2c3b44"/><circle cx="745.5" cy="720.0" r="1.25" fill="#2c3b44"/><circle cx="724.5" cy="733.5" r="1.25" fill="#2c3b44"/><circle cx="735.0" cy="720.0" r="1.25" fill="#2c3b44"/><circle cx="702.0" cy="715.5" r="1.25" fill="#2c3b44"/><circle cx="733.5" cy="711.0" r="1.25" fill="#2c3b44"/><circle cx="745.5" cy="714.0" r="1.25" fill="#2c3b44"/><circle cx="747.0" cy="715.5" r="1.25" fill="#2c3b44"/><circle cx="750.0" cy="727.5" r="1.25" fill="#2c3b44"/><circle cx="720.0" cy="721.5" r="1.25" fill="#2c3b44"/><circle cx="729.0" cy="723.0" r="1.25" fill="#2c3b44"/><circle cx="708.0" cy="712.5" r="1.25" fill="#2c3b44"/><circle cx="721.5" cy="733.5" r="1.25" fill="#2c3b44"/><circle cx="727.5" cy="709.5" r="1.25" fill="#2c3b44"/><circle cx="741.0" cy="727.5" r="1.25" fill="#2c3b44"/><circle cx="745.5" cy="712.5" r="1.25" fill="#2c3b44"/><circle cx="735.0" cy="708.0" r="1.25" fill="#2c3b44"/><circle cx="730.5" cy="714.0" r="1.25" fill="#2c3b44"/><circle cx="702.0" cy="732.0" r="1.25" fill="#2c3b44"/><circle cx="694.5" cy="721.5" r="1.25" fill="#2c3b44"/><circle cx="742.5" cy="714.0" r="1.25" fill="#2c3b44"/><circle cx="702.0" cy="732.0" r="1.25" fill="#2c3b44"/><circle cx="715.5" cy="727.5" r="1.25" fill="#2c3b44"/><circle cx="690.0" cy="717.0" r="1.25" fill="#2c3b44"/><circle cx="699.0" cy="726.0" r="1.25" fill="#2c3b44"/><circle cx="693.0" cy="733.5" r="1.25" fill="#2c3b44"/><circle cx="690.0" cy="727.5" r="1.25" fill="#2c3b44"/><circle cx="753.0" cy="714.0" r="1.25" fill="#2c3b44"/><circle cx="766.5" cy="711.0" r="1.25" fill="#2c3b44"/><circle cx="756.0" cy="726.0" r="1.25" fill="#2c3b44"/><circle cx="759.0" cy="708.0" r="1.25" fill="#2c3b44"/><circle cx="769.5" cy="711.0" r="1.25" fill="#2c3b44"/><circle cx="753.0" cy="717.0" r="1.25" fill="#2c3b44"/><circle cx="724.5" cy="756.0" r="1.25" fill="#2c3b44"/><circle cx="693.0" cy="745.5" r="1.25" fill="#2c3b44"/><circle cx="687.0" cy="748.5" r="1.25" fill="#2c3b44"/><circle cx="735.0" cy="756.0" r="1.25" fill="#2c3b44"/><circle cx="744.0" cy="757.5" r="1.25" fill="#2c3b44"/><circle cx="741.0" cy="756.0" r="1.25" fill="#2c3b44"/><circle cx="715.5" cy="741.0" r="1.25" fill="#2c3b44"/><circle cx="727.5" cy="744.0" r="1.25" fill="#2c3b44"/><circle cx="691.5" cy="748.5" r="1.25" fill="#2c3b44"/><circle cx="742.5" cy="738.0" r="1.25" fill="#2c3b44"/><circle cx="723.0" cy="747.0" r="1.25" fill="#2c3b44"/><circle cx="718.5" cy="739.5" r="1.25" fill="#2c3b44"/><circle cx="747.0" cy="742.5" r="1.25" fill="#2c3b44"/><circle cx="724.5" cy="747.0" r="1.25" fill="#2c3b44"/><circle cx="685.5" cy="751.5" r="1.25" fill="#2c3b44"/><circle cx="694.5" cy="736.5" r="1.25" fill="#2c3b44"/><circle cx="687.0" cy="739.5" r="1.25" fill="#2c3b44"/><circle cx="691.5" cy="753.0" r="1.25" fill="#2c3b44"/><circle cx="718.5" cy="763.5" r="1.25" fill="#2c3b44"/><circle cx="745.5" cy="763.5" r="1.25" fill="#2c3b44"/><circle cx="700.5" cy="748.5" r="1.25" fill="#2c3b44"/><circle cx="702.0" cy="751.5" r="1.25" fill="#2c3b44"/><circle cx="726.0" cy="757.5" r="1.25" fill="#2c3b44"/><circle cx="730.5" cy="742.5" r="1.25" fill="#2c3b44"/><circle cx="712.5" cy="750.0" r="1.25" fill="#2c3b44"/><circle cx="685.5" cy="736.5" r="1.25" fill="#2c3b44"/><circle cx="711.0" cy="738.0" r="1.25" fill="#2c3b44"/><circle cx="732.0" cy="742.5" r="1.25" fill="#2c3b44"/><circle cx="691.5" cy="741.0" r="1.25" fill="#2c3b44"/><circle cx="700.5" cy="741.0" r="1.25" fill="#2c3b44"/><circle cx="718.5" cy="748.5" r="1.25" fill="#2c3b44"/><circle cx="705.0" cy="753.0" r="1.25" fill="#2c3b44"/><circle cx="699.0" cy="762.0" r="1.25" fill="#2c3b44"/><circle cx="747.0" cy="756.0" r="1.25" fill="#2c3b44"/><circle cx="712.5" cy="750.0" r="1.25" fill="#2c3b44"/><circle cx="723.0" cy="736.5" r="1.25" fill="#2c3b44"/><circle cx="712.5" cy="750.0" r="1.25" fill="#2c3b44"/><circle cx="697.5" cy="738.0" r="1.25" fill="#2c3b44"/><circle cx="736.5" cy="745.5" r="1.25" fill="#2c3b44"/><circle cx="718.5" cy="762.0" r="1.25" fill="#2c3b44"/><circle cx="724.5" cy="744.0" r="1.25" fill="#2c3b44"/><circle cx="748.5" cy="745.5" r="1.25" fill="#2c3b44"/><circle cx="685.5" cy="754.5" r="1.25" fill="#2c3b44"/><circle cx="691.5" cy="744.0" r="1.25" fill="#2c3b44"/><circle cx="739.5" cy="754.5" r="1.25" fill="#2c3b44"/><circle cx="685.5" cy="748.5" r="1.25" fill="#2c3b44"/><circle cx="711.0" cy="748.5" r="1.25" fill="#2c3b44"/><circle cx="699.0" cy="751.5" r="1.25" fill="#2c3b44"/><circle cx="690.0" cy="742.5" r="1.25" fill="#2c3b44"/><circle cx="709.5" cy="762.0" r="1.25" fill="#2c3b44"/><circle cx="690.0" cy="757.5" r="1.25" fill="#2c3b44"/><circle cx="697.5" cy="751.5" r="1.25" fill="#2c3b44"/><circle cx="711.0" cy="748.5" r="1.25" fill="#2c3b44"/><circle cx="733.5" cy="747.0" r="1.25" fill="#2c3b44"/><circle cx="693.0" cy="738.0" r="1.25" fill="#2c3b44"/><circle cx="753.0" cy="759.0" r="1.25" fill="#2c3b44"/><circle cx="769.5" cy="763.5" r="1.25" fill="#2c3b44"/><circle cx="771.0" cy="735.0" r="1.25" fill="#2c3b44"/><circle cx="769.5" cy="757.5" r="1.25" fill="#2c3b44"/><circle cx="771.0" cy="750.0" r="1.25" fill="#2c3b44"/><circle cx="760.5" cy="748.5" r="1.25" fill="#2c3b44"/><circle cx="774.0" cy="742.5" r="1.25" fill="#2c3b44"/><circle cx="766.5" cy="748.5" r="1.25" fill="#2c3b44"/><circle cx="778.5" cy="759.0" r="1.25" fill="#2c3b44"/><circle cx="778.5" cy="759.0" r="1.25" fill="#2c3b44"/><circle cx="759.0" cy="741.0" r="1.25" fill="#2c3b44"/><circle cx="765.0" cy="742.5" r="1.25" fill="#2c3b44"/><circle cx="711.0" cy="783.0" r="1.25" fill="#2c3b44"/><circle cx="745.5" cy="780.0" r="1.25" fill="#2c3b44"/><circle cx="739.5" cy="766.5" r="1.25" fill="#2c3b44"/><circle cx="706.5" cy="792.0" r="1.25" fill="#2c3b44"/><circle cx="691.5" cy="775.5" r="1.25" fill="#2c3b44"/><circle cx="685.5" cy="766.5" r="1.25" fill="#2c3b44"/><circle cx="744.0" cy="792.0" r="1.25" fill="#2c3b44"/><circle cx="727.5" cy="768.0" r="1.25" fill="#2c3b44"/><circle cx="702.0" cy="771.0" r="1.25" fill="#2c3b44"/><circle cx="729.0" cy="783.0" r="1.25" fill="#2c3b44"/><circle cx="712.5" cy="778.5" r="1.25" fill="#2c3b44"/><circle cx="688.5" cy="778.5" r="1.25" fill="#2c3b44"/><circle cx="748.5" cy="784.5" r="1.25" fill="#2c3b44"/><circle cx="688.5" cy="778.5" r="1.25" fill="#2c3b44"/><circle cx="732.0" cy="771.0" r="1.25" fill="#2c3b44"/><circle cx="744.0" cy="777.0" r="1.25" fill="#2c3b44"/><circle cx="730.5" cy="775.5" r="1.25" fill="#2c3b44"/><circle cx="751.5" cy="786.0" r="1.25" fill="#2c3b44"/><circle cx="721.5" cy="768.0" r="1.25" fill="#2c3b44"/><circle cx="712.5" cy="765.0" r="1.25" fill="#2c3b44"/><circle cx="723.0" cy="789.0" r="1.25" fill="#2c3b44"/><circle cx="694.5" cy="778.5" r="1.25" fill="#2c3b44"/><circle cx="715.5" cy="775.5" r="1.25" fill="#2c3b44"/><circle cx="732.0" cy="790.5" r="1.25" fill="#2c3b44"/><circle cx="730.5" cy="777.0" r="1.25" fill="#2c3b44"/><circle cx="750.0" cy="774.0" r="1.25" fill="#2c3b44"/><circle cx="733.5" cy="783.0" r="1.25" fill="#2c3b44"/><circle cx="735.0" cy="787.5" r="1.25" fill="#2c3b44"/><circle cx="697.5" cy="781.5" r="1.25" fill="#2c3b44"/><circle cx="709.5" cy="783.0" r="1.25" fill="#2c3b44"/><circle cx="750.0" cy="781.5" r="1.25" fill="#2c3b44"/><circle cx="682.5" cy="777.0" r="1.25" fill="#2c3b44"/><circle cx="732.0" cy="789.0" r="1.25" fill="#2c3b44"/><circle cx="727.5" cy="787.5" r="1.25" fill="#2c3b44"/><circle cx="682.5" cy="790.5" r="1.25" fill="#2c3b44"/><circle cx="733.5" cy="781.5" r="1.25" fill="#2c3b44"/><circle cx="745.5" cy="789.0" r="1.25" fill="#2c3b44"/><circle cx="688.5" cy="787.5" r="1.25" fill="#2c3b44"/><circle cx="735.0" cy="769.5" r="1.25" fill="#2c3b44"/><circle cx="733.5" cy="780.0" r="1.25" fill="#2c3b44"/><circle cx="694.5" cy="786.0" r="1.25" fill="#2c3b44"/><circle cx="691.5" cy="781.5" r="1.25" fill="#2c3b44"/><circle cx="712.5" cy="771.0" r="1.25" fill="#2c3b44"/><circle cx="721.5" cy="777.0" r="1.25" fill="#2c3b44"/><circle cx="696.0" cy="790.5" r="1.25" fill="#2c3b44"/><circle cx="685.5" cy="763.5" r="1.25" fill="#2c3b44"/><circle cx="715.5" cy="787.5" r="1.25" fill="#2c3b44"/><circle cx="727.5" cy="784.5" r="1.25" fill="#2c3b44"/><circle cx="715.5" cy="783.0" r="1.25" fill="#2c3b44"/><circle cx="705.0" cy="771.0" r="1.25" fill="#2c3b44"/><circle cx="717.0" cy="765.0" r="1.25" fill="#2c3b44"/><circle cx="687.0" cy="784.5" r="1.25" fill="#2c3b44"/><circle cx="693.0" cy="784.5" r="1.25" fill="#2c3b44"/><circle cx="736.5" cy="775.5" r="1.25" fill="#2c3b44"/><circle cx="729.0" cy="786.0" r="1.25" fill="#2c3b44"/><circle cx="742.5" cy="768.0" r="1.25" fill="#2c3b44"/><circle cx="693.0" cy="774.0" r="1.25" fill="#2c3b44"/><circle cx="714.0" cy="772.5" r="1.25" fill="#2c3b44"/><circle cx="681.0" cy="780.0" r="1.25" fill="#2c3b44"/><circle cx="750.0" cy="774.0" r="1.25" fill="#2c3b44"/><circle cx="718.5" cy="774.0" r="1.25" fill="#2c3b44"/><circle cx="712.5" cy="789.0" r="1.25" fill="#2c3b44"/><circle cx="703.5" cy="781.5" r="1.25" fill="#2c3b44"/><circle cx="715.5" cy="778.5" r="1.25" fill="#2c3b44"/><circle cx="745.5" cy="766.5" r="1.25" fill="#2c3b44"/><circle cx="739.5" cy="772.5" r="1.25" fill="#2c3b44"/><circle cx="727.5" cy="786.0" r="1.25" fill="#2c3b44"/><circle cx="727.5" cy="775.5" r="1.25" fill="#2c3b44"/><circle cx="741.0" cy="766.5" r="1.25" fill="#2c3b44"/><circle cx="726.0" cy="775.5" r="1.25" fill="#2c3b44"/><circle cx="718.5" cy="787.5" r="1.25" fill="#2c3b44"/><circle cx="738.0" cy="781.5" r="1.25" fill="#2c3b44"/><circle cx="703.5" cy="771.0" r="1.25" fill="#2c3b44"/><circle cx="714.0" cy="771.0" r="1.25" fill="#2c3b44"/><circle cx="700.5" cy="790.5" r="1.25" fill="#2c3b44"/><circle cx="688.5" cy="787.5" r="1.25" fill="#2c3b44"/><circle cx="708.0" cy="774.0" r="1.25" fill="#2c3b44"/><circle cx="703.5" cy="766.5" r="1.25" fill="#2c3b44"/><circle cx="714.0" cy="768.0" r="1.25" fill="#2c3b44"/><circle cx="712.5" cy="772.5" r="1.25" fill="#2c3b44"/><circle cx="769.5" cy="790.5" r="1.25" fill="#2c3b44"/><circle cx="760.5" cy="781.5" r="1.25" fill="#2c3b44"/><circle cx="771.0" cy="772.5" r="1.25" fill="#2c3b44"/><circle cx="754.5" cy="771.0" r="1.25" fill="#2c3b44"/><circle cx="756.0" cy="783.0" r="1.25" fill="#2c3b44"/><circle cx="759.0" cy="774.0" r="1.25" fill="#2c3b44"/><circle cx="768.0" cy="771.0" r="1.25" fill="#2c3b44"/><circle cx="768.0" cy="781.5" r="1.25" fill="#2c3b44"/><circle cx="760.5" cy="787.5" r="1.25" fill="#2c3b44"/><circle cx="759.0" cy="789.0" r="1.25" fill="#2c3b44"/><circle cx="744.0" cy="807.0" r="1.25" fill="#2c3b44"/><circle cx="727.5" cy="819.0" r="1.25" fill="#2c3b44"/><circle cx="732.0" cy="814.5" r="1.25" fill="#2c3b44"/><circle cx="741.0" cy="819.0" r="1.25" fill="#2c3b44"/><circle cx="732.0" cy="820.5" r="1.25" fill="#2c3b44"/><circle cx="699.0" cy="810.0" r="1.25" fill="#2c3b44"/><circle cx="726.0" cy="802.5" r="1.25" fill="#2c3b44"/><circle cx="706.5" cy="796.5" r="1.25" fill="#2c3b44"/><circle cx="747.0" cy="802.5" r="1.25" fill="#2c3b44"/><circle cx="712.5" cy="817.5" r="1.25" fill="#2c3b44"/><circle cx="691.5" cy="820.5" r="1.25" fill="#2c3b44"/><circle cx="687.0" cy="793.5" r="1.25" fill="#2c3b44"/><circle cx="703.5" cy="802.5" r="1.25" fill="#2c3b44"/><circle cx="744.0" cy="817.5" r="1.25" fill="#2c3b44"/><circle cx="733.5" cy="804.0" r="1.25" fill="#2c3b44"/><circle cx="717.0" cy="799.5" r="1.25" fill="#2c3b44"/><circle cx="738.0" cy="804.0" r="1.25" fill="#2c3b44"/><circle cx="699.0" cy="810.0" r="1.25" fill="#2c3b44"/><circle cx="688.5" cy="801.0" r="1.25" fill="#2c3b44"/><circle cx="744.0" cy="795.0" r="1.25" fill="#2c3b44"/><circle cx="688.5" cy="798.0" r="1.25" fill="#2c3b44"/><circle cx="696.0" cy="804.0" r="1.25" fill="#2c3b44"/><circle cx="696.0" cy="802.5" r="1.25" fill="#2c3b44"/><circle cx="696.0" cy="799.5" r="1.25" fill="#2c3b44"/><circle cx="721.5" cy="802.5" r="1.25" fill="#2c3b44"/><circle cx="705.0" cy="814.5" r="1.25" fill="#2c3b44"/><circle cx="682.5" cy="796.5" r="1.25" fill="#2c3b44"/><circle cx="739.5" cy="804.0" r="1.25" fill="#2c3b44"/><circle cx="733.5" cy="796.5" r="1.25" fill="#2c3b44"/><circle cx="715.5" cy="816.0" r="1.25" fill="#2c3b44"/><circle cx="702.0" cy="814.5" r="1.25" fill="#2c3b44"/><circle cx="721.5" cy="804.0" r="1.25" fill="#2c3b44"/><circle cx="750.0" cy="804.0" r="1.25" fill="#2c3b44"/><circle cx="712.5" cy="810.0" r="1.25" fill="#2c3b44"/><circle cx="700.5" cy="816.0" r="1.25" fill="#2c3b44"/><circle cx="721.5" cy="808.5" r="1.25" fill="#2c3b44"/><circle cx="717.0" cy="820.5" r="1.25" fill="#2c3b44"/><circle cx="748.5" cy="816.0" r="1.25" fill="#2c3b44"/><circle cx="711.0" cy="804.0" r="1.25" fill="#2c3b44"/><circle cx="715.5" cy="793.5" r="1.25" fill="#2c3b44"/><circle cx="685.5" cy="820.5" r="1.25" fill="#2c3b44"/><circle cx="687.0" cy="819.0" r="1.25" fill="#2c3b44"/><circle cx="727.5" cy="819.0" r="1.25" fill="#2c3b44"/><circle cx="684.0" cy="801.0" r="1.25" fill="#2c3b44"/><circle cx="735.0" cy="792.0" r="1.25" fill="#2c3b44"/><circle cx="685.5" cy="802.5" r="1.25" fill="#2c3b44"/><circle cx="690.0" cy="796.5" r="1.25" fill="#2c3b44"/><circle cx="726.0" cy="795.0" r="1.25" fill="#2c3b44"/><circle cx="748.5" cy="811.5" r="1.25" fill="#2c3b44"/><circle cx="681.0" cy="817.5" r="1.25" fill="#2c3b44"/><circle cx="696.0" cy="805.5" r="1.25" fill="#2c3b44"/><circle cx="718.5" cy="796.5" r="1.25" fill="#2c3b44"/><circle cx="714.0" cy="793.5" r="1.25" fill="#2c3b44"/><circle cx="693.0" cy="819.0" r="1.25" fill="#2c3b44"/><circle cx="736.5" cy="807.0" r="1.25" fill="#2c3b44"/><circle cx="727.5" cy="817.5" r="1.25" fill="#2c3b44"/><circle cx="688.5" cy="807.0" r="1.25" fill="#2c3b44"/><circle cx="687.0" cy="795.0" r="1.25" fill="#2c3b44"/><circle cx="685.5" cy="798.0" r="1.25" fill="#2c3b44"/><circle cx="682.5" cy="798.0" r="1.25" fill="#2c3b44"/><circle cx="705.0" cy="810.0" r="1.25" fill="#2c3b44"/><circle cx="739.5" cy="817.5" r="1.25" fill="#2c3b44"/><circle cx="729.0" cy="807.0" r="1.25" fill="#2c3b44"/><circle cx="744.0" cy="796.5" r="1.25" fill="#2c3b44"/><circle cx="685.5" cy="816.0" r="1.25" fill="#2c3b44"/><circle cx="723.0" cy="798.0" r="1.25" fill="#2c3b44"/><circle cx="705.0" cy="801.0" r="1.25" fill="#2c3b44"/><circle cx="709.5" cy="804.0" r="1.25" fill="#2c3b44"/><circle cx="706.5" cy="814.5" r="1.25" fill="#2c3b44"/><circle cx="736.5" cy="808.5" r="1.25" fill="#2c3b44"/><circle cx="712.5" cy="799.5" r="1.25" fill="#2c3b44"/><circle cx="733.5" cy="820.5" r="1.25" fill="#2c3b44"/><circle cx="694.5" cy="813.0" r="1.25" fill="#2c3b44"/><circle cx="729.0" cy="811.5" r="1.25" fill="#2c3b44"/><circle cx="679.5" cy="808.5" r="1.25" fill="#2c3b44"/><circle cx="693.0" cy="798.0" r="1.25" fill="#2c3b44"/><circle cx="720.0" cy="810.0" r="1.25" fill="#2c3b44"/><circle cx="723.0" cy="813.0" r="1.25" fill="#2c3b44"/><circle cx="729.0" cy="805.5" r="1.25" fill="#2c3b44"/><circle cx="681.0" cy="814.5" r="1.25" fill="#2c3b44"/><circle cx="738.0" cy="816.0" r="1.25" fill="#2c3b44"/><circle cx="721.5" cy="793.5" r="1.25" fill="#2c3b44"/><circle cx="691.5" cy="795.0" r="1.25" fill="#2c3b44"/><circle cx="724.5" cy="808.5" r="1.25" fill="#2c3b44"/><circle cx="691.5" cy="819.0" r="1.25" fill="#2c3b44"/><circle cx="748.5" cy="817.5" r="1.25" fill="#2c3b44"/><circle cx="711.0" cy="801.0" r="1.25" fill="#2c3b44"/><circle cx="693.0" cy="816.0" r="1.25" fill="#2c3b44"/><circle cx="729.0" cy="799.5" r="1.25" fill="#2c3b44"/><circle cx="742.5" cy="808.5" r="1.25" fill="#2c3b44"/><circle cx="708.0" cy="804.0" r="1.25" fill="#2c3b44"/><circle cx="730.5" cy="805.5" r="1.25" fill="#2c3b44"/><circle cx="726.0" cy="795.0" r="1.25" fill="#2c3b44"/><circle cx="729.0" cy="799.5" r="1.25" fill="#2c3b44"/><circle cx="744.0" cy="798.0" r="1.25" fill="#2c3b44"/><circle cx="756.0" cy="807.0" r="1.25" fill="#2c3b44"/><circle cx="757.5" cy="807.0" r="1.25" fill="#2c3b44"/><circle cx="766.5" cy="798.0" r="1.25" fill="#2c3b44"/><circle cx="763.5" cy="811.5" r="1.25" fill="#2c3b44"/><circle cx="763.5" cy="805.5" r="1.25" fill="#2c3b44"/><circle cx="757.5" cy="802.5" r="1.25" fill="#2c3b44"/><circle cx="759.0" cy="799.5" r="1.25" fill="#2c3b44"/><circle cx="753.0" cy="805.5" r="1.25" fill="#2c3b44"/><circle cx="753.0" cy="805.5" r="1.25" fill="#2c3b44"/><circle cx="760.5" cy="801.0" r="1.25" fill="#2c3b44"/><circle cx="685.5" cy="829.5" r="1.25" fill="#2c3b44"/><circle cx="735.0" cy="823.5" r="1.25" fill="#2c3b44"/><circle cx="717.0" cy="829.5" r="1.25" fill="#2c3b44"/><circle cx="736.5" cy="831.0" r="1.25" fill="#2c3b44"/><circle cx="694.5" cy="823.5" r="1.25" fill="#2c3b44"/><circle cx="733.5" cy="825.0" r="1.25" fill="#2c3b44"/><circle cx="673.5" cy="832.5" r="1.25" fill="#2c3b44"/><circle cx="687.0" cy="825.0" r="1.25" fill="#2c3b44"/><circle cx="696.0" cy="825.0" r="1.25" fill="#2c3b44"/><circle cx="724.5" cy="826.5" r="1.25" fill="#2c3b44"/><circle cx="705.0" cy="826.5" r="1.25" fill="#2c3b44"/><circle cx="733.5" cy="822.0" r="1.25" fill="#2c3b44"/><circle cx="714.0" cy="823.5" r="1.25" fill="#2c3b44"/><circle cx="684.0" cy="829.5" r="1.25" fill="#2c3b44"/><circle cx="700.5" cy="822.0" r="1.25" fill="#2c3b44"/><circle cx="715.5" cy="834.0" r="1.25" fill="#2c3b44"/><circle cx="720.0" cy="828.0" r="1.25" fill="#2c3b44"/><circle cx="730.5" cy="834.0" r="1.25" fill="#2c3b44"/><circle cx="684.0" cy="825.0" r="1.25" fill="#2c3b44"/><circle cx="742.5" cy="834.0" r="1.25" fill="#2c3b44"/><circle cx="687.0" cy="831.0" r="1.25" fill="#2c3b44"/><circle cx="736.5" cy="829.5" r="1.25" fill="#2c3b44"/><circle cx="723.0" cy="828.0" r="1.25" fill="#2c3b44"/><circle cx="690.0" cy="823.5" r="1.25" fill="#2c3b44"/><circle cx="678.0" cy="831.0" r="1.25" fill="#2c3b44"/><circle cx="682.5" cy="829.5" r="1.25" fill="#2c3b44"/><circle cx="700.5" cy="826.5" r="1.25" fill="#2c3b44"/><circle cx="742.5" cy="826.5" r="1.25" fill="#2c3b44"/><circle cx="706.5" cy="826.5" r="1.25" fill="#2c3b44"/><circle cx="688.5" cy="823.5" r="1.25" fill="#2c3b44"/><circle cx="711.0" cy="832.5" r="1.25" fill="#2c3b44"/><circle cx="679.5" cy="834.0" r="1.25" fill="#2c3b44"/><circle cx="700.4" cy="244.2" r="1.25" fill="#cf5a3a"/><circle cx="713.7" cy="366" r="1.25" fill="#cf5a3a"/><circle cx="700.4" cy="400.2" r="1.25" fill="#cf5a3a"/><circle cx="727.4" cy="395.5" r="1.25" fill="#cf5a3a"/><circle cx="697" cy="450.4" r="1.25" fill="#cf5a3a"/><circle cx="718.4" cy="455" r="1.25" fill="#cf5a3a"/><circle cx="727.5" cy="470.2" r="1.25" fill="#cf5a3a"/><circle cx="723.3" cy="479.7" r="1.25" fill="#cf5a3a"/><circle cx="700.5" cy="484.5" r="1.25" fill="#cf5a3a"/><circle cx="718.4" cy="510.8" r="1.25" fill="#cf5a3a"/><circle cx="727.5" cy="514.3" r="1.25" fill="#cf5a3a"/><circle cx="727.5" cy="523.2" r="1.25" fill="#cf5a3a"/><circle cx="704.5" cy="525.4" r="1.25" fill="#cf5a3a"/><circle cx="687" cy="534.7" r="1.25" fill="#cf5a3a"/><circle cx="709.3" cy="534.7" r="1.25" fill="#cf5a3a"/><circle cx="697" cy="542.2" r="1.25" fill="#cf5a3a"/><circle cx="709.3" cy="542.2" r="1.25" fill="#cf5a3a"/><circle cx="726.2" cy="545.7" r="1.25" fill="#cf5a3a"/><circle cx="690.8" cy="560.8" r="1.25" fill="#cf5a3a"/><circle cx="703.1" cy="562.7" r="1.25" fill="#cf5a3a"/><circle cx="720" cy="578.3" r="1.25" fill="#cf5a3a"/><circle cx="723.2" cy="584.4" r="1.25" fill="#cf5a3a"/><circle cx="768.6" cy="600" r="1.25" fill="#cf5a3a"/><circle cx="709.6" cy="606.2" r="1.25" fill="#cf5a3a"/><circle cx="709.6" cy="613.2" r="1.25" fill="#cf5a3a"/><circle cx="745.6" cy="615.8" r="1.25" fill="#cf5a3a"/><circle cx="745.6" cy="620.7" r="1.25" fill="#cf5a3a"/><circle cx="713.7" cy="624" r="1.25" fill="#2c3b44"/><circle cx="704.8" cy="636" r="1.25" fill="#cf5a3a"/><circle cx="727.5" cy="645.1" r="1.25" fill="#2c3b44"/><circle cx="754.7" cy="655.3" r="1.25" fill="#2c3b44"/><circle cx="759.5" cy="656.6" r="1.25" fill="#2c3b44"/><circle cx="713.7" cy="662.9" r="1.25" fill="#2c3b44"/><circle cx="709.6" cy="670.3" r="1.25" fill="#2c3b44"/><circle cx="716.4" cy="670.3" r="1.25" fill="#2c3b44"/><circle cx="723.2" cy="676.9" r="1.25" fill="#2c3b44"/><circle cx="731" cy="676.2" r="1.25" fill="#2c3b44"/><circle cx="719.7" cy="679.3" r="1.25" fill="#2c3b44"/><circle cx="763.6" cy="720.7" r="1.25" fill="#2c3b44"/><circle cx="768.6" cy="725.2" r="1.25" fill="#2c3b44"/><circle cx="804.9" cy="725.2" r="1.25" fill="#2c3b44"/><circle cx="763.6" cy="732.8" r="1.25" fill="#2c3b44"/><circle cx="768.6" cy="745" r="1.25" fill="#2c3b44"/><circle cx="777.4" cy="745" r="1.25" fill="#2c3b44"/><circle cx="768.6" cy="756.7" r="1.25" fill="#2c3b44"/><circle cx="772.6" cy="756.7" r="1.25" fill="#2c3b44"/><circle cx="786.6" cy="756.7" r="1.25" fill="#cf5a3a"/><circle cx="762.7" cy="761.5" r="1.25" fill="#2c3b44"/><circle cx="766.6" cy="761.5" r="1.25" fill="#2c3b44"/><circle cx="766.6" cy="766.9" r="1.25" fill="#2c3b44"/><circle cx="765.7" cy="770.1" r="1.25" fill="#2c3b44"/><circle cx="797.2" cy="764.2" r="1.25" fill="#2c3b44"/><circle cx="836.7" cy="772.3" r="1.25" fill="#2c3b44"/><circle cx="763.6" cy="782.2" r="1.25" fill="#2c3b44"/><circle cx="786.6" cy="781.3" r="1.25" fill="#cf5a3a"/><circle cx="788.7" cy="787.2" r="1.25" fill="#cf5a3a"/><circle cx="877.7" cy="781.3" r="1.25" fill="#cf5a3a"/><circle cx="775.6" cy="790.6" r="1.25" fill="#2c3b44"/><circle cx="763.6" cy="795.3" r="1.25" fill="#2c3b44"/><circle cx="768.6" cy="801.6" r="1.25" fill="#2c3b44"/><circle cx="836.7" cy="801.6" r="1.25" fill="#2c3b44"/><circle cx="763.6" cy="812.7" r="1.25" fill="#2c3b44"/><circle cx="797.2" cy="814" r="1.25" fill="#2c3b44"/><circle cx="763.6" cy="826.7" r="1.25" fill="#2c3b44"/><circle cx="932" cy="684.6" r="1.25" fill="#cf5a3a"/><circle cx="950.8" cy="795.2" r="1.25" fill="#cf5a3a"/><circle cx="1064.3" cy="803.7" r="1.25" fill="#cf5a3a"/><circle cx="677.2" cy="826.9" r="1.25" fill="#d6cd62"/></svg>
<svg class="a" style="left:0;top:0" width="1504" height="1002"><circle cx="1180.5" cy="699.0" r="1.6" fill="#2c3b44"/><circle cx="1189.5" cy="702.0" r="1.6" fill="#2c3b44"/><circle cx="1207.5" cy="682.5" r="1.6" fill="#2c3b44"/><circle cx="1165.5" cy="709.5" r="1.6" fill="#2c3b44"/><circle cx="1182.0" cy="688.5" r="1.6" fill="#2c3b44"/><circle cx="1231.5" cy="697.5" r="1.6" fill="#2c3b44"/><circle cx="1221.0" cy="697.5" r="1.6" fill="#2c3b44"/><circle cx="1207.5" cy="685.5" r="1.6" fill="#2c3b44"/><circle cx="1207.5" cy="711.0" r="1.6" fill="#2c3b44"/><circle cx="1200.0" cy="706.5" r="1.6" fill="#2c3b44"/><circle cx="1210.5" cy="682.5" r="1.6" fill="#2c3b44"/><circle cx="1216.5" cy="702.0" r="1.6" fill="#2c3b44"/><circle cx="1185.0" cy="681.0" r="1.6" fill="#2c3b44"/><circle cx="1222.5" cy="697.5" r="1.6" fill="#2c3b44"/><circle cx="1213.5" cy="711.0" r="1.6" fill="#2c3b44"/><circle cx="1213.5" cy="712.5" r="1.6" fill="#2c3b44"/><circle cx="1191.0" cy="709.5" r="1.6" fill="#2c3b44"/><circle cx="1195.5" cy="714.0" r="1.6" fill="#2c3b44"/><circle cx="1224.0" cy="684.0" r="1.6" fill="#2c3b44"/><circle cx="1174.5" cy="688.5" r="1.6" fill="#2c3b44"/><circle cx="1230.0" cy="696.0" r="1.6" fill="#2c3b44"/><circle cx="1207.5" cy="691.5" r="1.6" fill="#2c3b44"/><circle cx="1188.0" cy="727.5" r="1.6" fill="#2c3b44"/><circle cx="1176.0" cy="733.5" r="1.6" fill="#2c3b44"/><circle cx="1194.0" cy="742.5" r="1.6" fill="#2c3b44"/><circle cx="1201.5" cy="742.5" r="1.6" fill="#2c3b44"/><circle cx="1215.0" cy="744.0" r="1.6" fill="#2c3b44"/><circle cx="1201.5" cy="720.0" r="1.6" fill="#2c3b44"/><circle cx="1215.0" cy="744.0" r="1.6" fill="#2c3b44"/><circle cx="1219.5" cy="732.0" r="1.6" fill="#2c3b44"/><circle cx="1204.5" cy="721.5" r="1.6" fill="#2c3b44"/><circle cx="1213.5" cy="732.0" r="1.6" fill="#2c3b44"/><circle cx="1171.5" cy="718.5" r="1.6" fill="#2c3b44"/><circle cx="1215.0" cy="744.0" r="1.6" fill="#2c3b44"/><circle cx="1156.5" cy="739.5" r="1.6" fill="#2c3b44"/><circle cx="1180.5" cy="720.0" r="1.6" fill="#2c3b44"/><circle cx="1173.0" cy="738.0" r="1.6" fill="#2c3b44"/><circle cx="1216.5" cy="717.0" r="1.6" fill="#2c3b44"/><circle cx="1197.0" cy="717.0" r="1.6" fill="#2c3b44"/><circle cx="1204.5" cy="726.0" r="1.6" fill="#2c3b44"/><circle cx="1216.5" cy="744.0" r="1.6" fill="#2c3b44"/><circle cx="1188.0" cy="745.5" r="1.6" fill="#2c3b44"/><circle cx="1173.0" cy="718.5" r="1.6" fill="#2c3b44"/><circle cx="1195.5" cy="717.0" r="1.6" fill="#2c3b44"/><circle cx="1165.5" cy="727.5" r="1.6" fill="#2c3b44"/><circle cx="1197.0" cy="720.0" r="1.6" fill="#2c3b44"/><circle cx="1153.5" cy="741.0" r="1.6" fill="#2c3b44"/><circle cx="1174.5" cy="744.0" r="1.6" fill="#2c3b44"/><circle cx="1218.0" cy="727.5" r="1.6" fill="#2c3b44"/><circle cx="1185.0" cy="730.5" r="1.6" fill="#2c3b44"/><circle cx="1198.5" cy="733.5" r="1.6" fill="#2c3b44"/><circle cx="1192.5" cy="733.5" r="1.6" fill="#2c3b44"/><circle cx="1221.0" cy="730.5" r="1.6" fill="#2c3b44"/><circle cx="1183.5" cy="736.5" r="1.6" fill="#2c3b44"/><circle cx="1168.5" cy="724.5" r="1.6" fill="#2c3b44"/><circle cx="1224.0" cy="730.5" r="1.6" fill="#2c3b44"/><circle cx="1191.0" cy="717.0" r="1.6" fill="#2c3b44"/><circle cx="1182.0" cy="733.5" r="1.6" fill="#2c3b44"/><circle cx="1152.0" cy="733.5" r="1.6" fill="#2c3b44"/><circle cx="1198.5" cy="717.0" r="1.6" fill="#2c3b44"/><circle cx="1197.0" cy="729.0" r="1.6" fill="#2c3b44"/><circle cx="1201.5" cy="726.0" r="1.6" fill="#2c3b44"/><circle cx="1203.0" cy="738.0" r="1.6" fill="#2c3b44"/><circle cx="1152.0" cy="718.5" r="1.6" fill="#2c3b44"/><circle cx="1201.5" cy="744.0" r="1.6" fill="#2c3b44"/><circle cx="1168.5" cy="729.0" r="1.6" fill="#2c3b44"/><circle cx="1188.0" cy="754.5" r="1.6" fill="#2c3b44"/><circle cx="1173.0" cy="754.5" r="1.6" fill="#2c3b44"/><circle cx="1173.0" cy="762.0" r="1.6" fill="#2c3b44"/><circle cx="1168.5" cy="756.0" r="1.6" fill="#2c3b44"/><circle cx="1200.0" cy="745.5" r="1.6" fill="#2c3b44"/><circle cx="1186.5" cy="765.0" r="1.6" fill="#2c3b44"/><circle cx="1168.5" cy="751.5" r="1.6" fill="#2c3b44"/><circle cx="1201.5" cy="751.5" r="1.6" fill="#2c3b44"/><circle cx="1161.0" cy="757.5" r="1.6" fill="#2c3b44"/><circle cx="1195.5" cy="748.5" r="1.6" fill="#2c3b44"/><circle cx="1170.0" cy="754.5" r="1.6" fill="#2c3b44"/><circle cx="1204.5" cy="757.5" r="1.6" fill="#2c3b44"/><circle cx="1206.0" cy="750.0" r="1.6" fill="#2c3b44"/><circle cx="1170.0" cy="763.5" r="1.6" fill="#2c3b44"/><circle cx="1207.5" cy="757.5" r="1.6" fill="#2c3b44"/><circle cx="1162.5" cy="748.5" r="1.6" fill="#2c3b44"/><circle cx="1183.5" cy="750.0" r="1.6" fill="#2c3b44"/><circle cx="1201.5" cy="768.0" r="1.6" fill="#2c3b44"/><circle cx="1161.0" cy="753.0" r="1.6" fill="#2c3b44"/><circle cx="1201.5" cy="763.5" r="1.6" fill="#2c3b44"/><circle cx="1201.5" cy="754.5" r="1.6" fill="#2c3b44"/><circle cx="1156.5" cy="753.0" r="1.6" fill="#2c3b44"/><circle cx="1201.5" cy="753.0" r="1.6" fill="#2c3b44"/><circle cx="1171.5" cy="756.0" r="1.6" fill="#2c3b44"/><circle cx="1176.0" cy="756.0" r="1.6" fill="#2c3b44"/><circle cx="1209.0" cy="750.0" r="1.6" fill="#2c3b44"/><circle cx="1149.0" cy="771.0" r="1.6" fill="#2c3b44"/><circle cx="1207.5" cy="772.5" r="1.6" fill="#2c3b44"/><circle cx="1177.5" cy="771.0" r="1.6" fill="#2c3b44"/><circle cx="1210.5" cy="751.5" r="1.6" fill="#2c3b44"/><circle cx="1198.5" cy="768.0" r="1.6" fill="#2c3b44"/><circle cx="1192.5" cy="759.0" r="1.6" fill="#2c3b44"/><circle cx="1167.0" cy="754.5" r="1.6" fill="#2c3b44"/><circle cx="1162.5" cy="747.0" r="1.6" fill="#2c3b44"/><circle cx="1188.0" cy="753.0" r="1.6" fill="#2c3b44"/><circle cx="1203.0" cy="747.0" r="1.6" fill="#2c3b44"/><circle cx="1209.0" cy="765.0" r="1.6" fill="#2c3b44"/><circle cx="1210.5" cy="769.5" r="1.6" fill="#2c3b44"/><circle cx="1209.0" cy="760.5" r="1.6" fill="#2c3b44"/><circle cx="1149.0" cy="766.5" r="1.6" fill="#2c3b44"/><circle cx="1159.5" cy="753.0" r="1.6" fill="#2c3b44"/><circle cx="1192.5" cy="759.0" r="1.6" fill="#2c3b44"/><circle cx="1176.0" cy="771.0" r="1.6" fill="#2c3b44"/><circle cx="1189.5" cy="754.5" r="1.6" fill="#2c3b44"/><circle cx="1165.5" cy="769.5" r="1.6" fill="#2c3b44"/><circle cx="1180.5" cy="766.5" r="1.6" fill="#2c3b44"/><circle cx="1171.5" cy="750.0" r="1.6" fill="#2c3b44"/><circle cx="1183.5" cy="768.0" r="1.6" fill="#2c3b44"/><circle cx="1159.5" cy="766.5" r="1.6" fill="#2c3b44"/><circle cx="1210.5" cy="768.0" r="1.6" fill="#2c3b44"/><circle cx="1203.0" cy="745.5" r="1.6" fill="#2c3b44"/><circle cx="1189.5" cy="769.5" r="1.6" fill="#2c3b44"/><circle cx="1152.0" cy="753.0" r="1.6" fill="#2c3b44"/><circle cx="1165.5" cy="760.5" r="1.6" fill="#2c3b44"/><circle cx="1176.0" cy="757.5" r="1.6" fill="#2c3b44"/><circle cx="1200.0" cy="745.5" r="1.6" fill="#2c3b44"/><circle cx="1152.0" cy="748.5" r="1.6" fill="#2c3b44"/><circle cx="1156.5" cy="747.0" r="1.6" fill="#2c3b44"/><circle cx="1213.5" cy="769.5" r="1.6" fill="#2c3b44"/><circle cx="1153.5" cy="759.0" r="1.6" fill="#2c3b44"/><circle cx="1168.5" cy="754.5" r="1.6" fill="#2c3b44"/><circle cx="1171.5" cy="763.5" r="1.6" fill="#2c3b44"/><circle cx="1188.0" cy="754.5" r="1.6" fill="#2c3b44"/><circle cx="1161.0" cy="754.5" r="1.6" fill="#2c3b44"/><circle cx="1156.5" cy="760.5" r="1.6" fill="#2c3b44"/><circle cx="1233.0" cy="756.0" r="1.6" fill="#2c3b44"/><circle cx="1216.5" cy="750.0" r="1.6" fill="#2c3b44"/><circle cx="1224.0" cy="762.0" r="1.6" fill="#2c3b44"/><circle cx="1234.5" cy="756.0" r="1.6" fill="#2c3b44"/><circle cx="1234.5" cy="762.0" r="1.6" fill="#2c3b44"/><circle cx="1225.5" cy="756.0" r="1.6" fill="#2c3b44"/><circle cx="1227.0" cy="765.0" r="1.6" fill="#2c3b44"/><circle cx="1225.5" cy="765.0" r="1.6" fill="#2c3b44"/><circle cx="1227.0" cy="751.5" r="1.6" fill="#2c3b44"/><circle cx="1228.5" cy="765.0" r="1.6" fill="#2c3b44"/><circle cx="1216.5" cy="757.5" r="1.6" fill="#2c3b44"/><circle cx="1225.5" cy="769.5" r="1.6" fill="#2c3b44"/><circle cx="1206.0" cy="784.5" r="1.6" fill="#2c3b44"/><circle cx="1203.0" cy="796.5" r="1.6" fill="#2c3b44"/><circle cx="1164.0" cy="786.0" r="1.6" fill="#2c3b44"/><circle cx="1155.0" cy="796.5" r="1.6" fill="#2c3b44"/><circle cx="1189.5" cy="798.0" r="1.6" fill="#2c3b44"/><circle cx="1197.0" cy="792.0" r="1.6" fill="#2c3b44"/><circle cx="1194.0" cy="789.0" r="1.6" fill="#2c3b44"/><circle cx="1155.0" cy="790.5" r="1.6" fill="#2c3b44"/><circle cx="1149.0" cy="777.0" r="1.6" fill="#2c3b44"/><circle cx="1195.5" cy="774.0" r="1.6" fill="#2c3b44"/><circle cx="1153.5" cy="775.5" r="1.6" fill="#2c3b44"/><circle cx="1203.0" cy="778.5" r="1.6" fill="#2c3b44"/><circle cx="1149.0" cy="798.0" r="1.6" fill="#2c3b44"/><circle cx="1155.0" cy="798.0" r="1.6" fill="#2c3b44"/><circle cx="1189.5" cy="796.5" r="1.6" fill="#2c3b44"/><circle cx="1207.5" cy="790.5" r="1.6" fill="#2c3b44"/><circle cx="1197.0" cy="774.0" r="1.6" fill="#2c3b44"/><circle cx="1195.5" cy="787.5" r="1.6" fill="#2c3b44"/><circle cx="1192.5" cy="775.5" r="1.6" fill="#2c3b44"/><circle cx="1194.0" cy="799.5" r="1.6" fill="#2c3b44"/><circle cx="1152.0" cy="783.0" r="1.6" fill="#2c3b44"/><circle cx="1183.5" cy="796.5" r="1.6" fill="#2c3b44"/><circle cx="1162.5" cy="778.5" r="1.6" fill="#2c3b44"/><circle cx="1164.0" cy="790.5" r="1.6" fill="#2c3b44"/><circle cx="1194.0" cy="784.5" r="1.6" fill="#2c3b44"/><circle cx="1171.5" cy="784.5" r="1.6" fill="#2c3b44"/><circle cx="1170.0" cy="784.5" r="1.6" fill="#2c3b44"/><circle cx="1153.5" cy="787.5" r="1.6" fill="#2c3b44"/><circle cx="1209.0" cy="784.5" r="1.6" fill="#2c3b44"/><circle cx="1194.0" cy="777.0" r="1.6" fill="#2c3b44"/><circle cx="1191.0" cy="795.0" r="1.6" fill="#2c3b44"/><circle cx="1189.5" cy="787.5" r="1.6" fill="#2c3b44"/><circle cx="1177.5" cy="792.0" r="1.6" fill="#2c3b44"/><circle cx="1203.0" cy="777.0" r="1.6" fill="#2c3b44"/><circle cx="1153.5" cy="795.0" r="1.6" fill="#2c3b44"/><circle cx="1204.5" cy="787.5" r="1.6" fill="#2c3b44"/><circle cx="1176.0" cy="793.5" r="1.6" fill="#2c3b44"/><circle cx="1159.5" cy="781.5" r="1.6" fill="#2c3b44"/><circle cx="1161.0" cy="790.5" r="1.6" fill="#2c3b44"/><circle cx="1167.0" cy="780.0" r="1.6" fill="#2c3b44"/><circle cx="1191.0" cy="801.0" r="1.6" fill="#2c3b44"/><circle cx="1167.0" cy="793.5" r="1.6" fill="#2c3b44"/><circle cx="1173.0" cy="798.0" r="1.6" fill="#2c3b44"/><circle cx="1183.5" cy="780.0" r="1.6" fill="#2c3b44"/><circle cx="1161.0" cy="774.0" r="1.6" fill="#2c3b44"/><circle cx="1177.5" cy="784.5" r="1.6" fill="#2c3b44"/><circle cx="1158.0" cy="783.0" r="1.6" fill="#2c3b44"/><circle cx="1168.5" cy="795.0" r="1.6" fill="#2c3b44"/><circle cx="1156.5" cy="801.0" r="1.6" fill="#2c3b44"/><circle cx="1177.5" cy="790.5" r="1.6" fill="#2c3b44"/><circle cx="1177.5" cy="796.5" r="1.6" fill="#2c3b44"/><circle cx="1198.5" cy="789.0" r="1.6" fill="#2c3b44"/><circle cx="1177.5" cy="793.5" r="1.6" fill="#2c3b44"/><circle cx="1201.5" cy="784.5" r="1.6" fill="#2c3b44"/><circle cx="1194.0" cy="801.0" r="1.6" fill="#2c3b44"/><circle cx="1177.5" cy="780.0" r="1.6" fill="#2c3b44"/><circle cx="1162.5" cy="793.5" r="1.6" fill="#2c3b44"/><circle cx="1189.5" cy="801.0" r="1.6" fill="#2c3b44"/><circle cx="1201.5" cy="780.0" r="1.6" fill="#2c3b44"/><circle cx="1159.5" cy="780.0" r="1.6" fill="#2c3b44"/><circle cx="1159.5" cy="793.5" r="1.6" fill="#2c3b44"/><circle cx="1201.5" cy="799.5" r="1.6" fill="#2c3b44"/><circle cx="1164.0" cy="798.0" r="1.6" fill="#2c3b44"/><circle cx="1167.0" cy="786.0" r="1.6" fill="#2c3b44"/><circle cx="1192.5" cy="775.5" r="1.6" fill="#2c3b44"/><circle cx="1153.5" cy="796.5" r="1.6" fill="#2c3b44"/><circle cx="1165.5" cy="783.0" r="1.6" fill="#2c3b44"/><circle cx="1183.5" cy="792.0" r="1.6" fill="#2c3b44"/><circle cx="1149.0" cy="783.0" r="1.6" fill="#2c3b44"/><circle cx="1174.5" cy="787.5" r="1.6" fill="#2c3b44"/><circle cx="1161.0" cy="790.5" r="1.6" fill="#2c3b44"/><circle cx="1207.5" cy="784.5" r="1.6" fill="#2c3b44"/><circle cx="1182.0" cy="777.0" r="1.6" fill="#2c3b44"/><circle cx="1165.5" cy="792.0" r="1.6" fill="#2c3b44"/><circle cx="1155.0" cy="798.0" r="1.6" fill="#2c3b44"/><circle cx="1204.5" cy="775.5" r="1.6" fill="#2c3b44"/><circle cx="1206.0" cy="784.5" r="1.6" fill="#2c3b44"/><circle cx="1195.5" cy="795.0" r="1.6" fill="#2c3b44"/><circle cx="1167.0" cy="792.0" r="1.6" fill="#2c3b44"/><circle cx="1188.0" cy="796.5" r="1.6" fill="#2c3b44"/><circle cx="1164.0" cy="795.0" r="1.6" fill="#2c3b44"/><circle cx="1207.5" cy="792.0" r="1.6" fill="#2c3b44"/><circle cx="1180.5" cy="777.0" r="1.6" fill="#2c3b44"/><circle cx="1179.0" cy="783.0" r="1.6" fill="#2c3b44"/><circle cx="1192.5" cy="792.0" r="1.6" fill="#2c3b44"/><circle cx="1183.5" cy="778.5" r="1.6" fill="#2c3b44"/><circle cx="1188.0" cy="792.0" r="1.6" fill="#2c3b44"/><circle cx="1159.5" cy="799.5" r="1.6" fill="#2c3b44"/><circle cx="1188.0" cy="777.0" r="1.6" fill="#2c3b44"/><circle cx="1206.0" cy="777.0" r="1.6" fill="#2c3b44"/><circle cx="1168.5" cy="793.5" r="1.6" fill="#2c3b44"/><circle cx="1185.0" cy="789.0" r="1.6" fill="#2c3b44"/><circle cx="1188.0" cy="786.0" r="1.6" fill="#2c3b44"/><circle cx="1167.0" cy="778.5" r="1.6" fill="#2c3b44"/><circle cx="1152.0" cy="793.5" r="1.6" fill="#2c3b44"/><circle cx="1195.5" cy="789.0" r="1.6" fill="#2c3b44"/><circle cx="1194.0" cy="783.0" r="1.6" fill="#2c3b44"/><circle cx="1164.0" cy="784.5" r="1.6" fill="#2c3b44"/><circle cx="1201.5" cy="774.0" r="1.6" fill="#2c3b44"/><circle cx="1179.0" cy="780.0" r="1.6" fill="#2c3b44"/><circle cx="1237.5" cy="783.0" r="1.6" fill="#2c3b44"/><circle cx="1222.5" cy="784.5" r="1.6" fill="#2c3b44"/><circle cx="1230.0" cy="795.0" r="1.6" fill="#2c3b44"/><circle cx="1222.5" cy="798.0" r="1.6" fill="#2c3b44"/><circle cx="1213.5" cy="781.5" r="1.6" fill="#2c3b44"/><circle cx="1213.5" cy="777.0" r="1.6" fill="#2c3b44"/><circle cx="1237.5" cy="793.5" r="1.6" fill="#2c3b44"/><circle cx="1216.5" cy="778.5" r="1.6" fill="#2c3b44"/><circle cx="1225.5" cy="795.0" r="1.6" fill="#2c3b44"/><circle cx="1239.0" cy="795.0" r="1.6" fill="#2c3b44"/><circle cx="1231.5" cy="777.0" r="1.6" fill="#2c3b44"/><circle cx="1224.0" cy="778.5" r="1.6" fill="#2c3b44"/><circle cx="1228.5" cy="789.0" r="1.6" fill="#2c3b44"/><circle cx="1218.0" cy="780.0" r="1.6" fill="#2c3b44"/><circle cx="1237.5" cy="774.0" r="1.6" fill="#2c3b44"/><circle cx="1239.0" cy="799.5" r="1.6" fill="#2c3b44"/><circle cx="1243.5" cy="784.5" r="1.6" fill="#2c3b44"/><circle cx="1230.0" cy="790.5" r="1.6" fill="#2c3b44"/><circle cx="1183.5" cy="829.5" r="1.6" fill="#2c3b44"/><circle cx="1186.5" cy="810.0" r="1.6" fill="#2c3b44"/><circle cx="1197.0" cy="816.0" r="1.6" fill="#2c3b44"/><circle cx="1182.0" cy="822.0" r="1.6" fill="#2c3b44"/><circle cx="1147.5" cy="823.5" r="1.6" fill="#2c3b44"/><circle cx="1185.0" cy="816.0" r="1.6" fill="#2c3b44"/><circle cx="1177.5" cy="814.5" r="1.6" fill="#2c3b44"/><circle cx="1159.5" cy="817.5" r="1.6" fill="#2c3b44"/><circle cx="1150.5" cy="816.0" r="1.6" fill="#2c3b44"/><circle cx="1185.0" cy="814.5" r="1.6" fill="#2c3b44"/><circle cx="1180.5" cy="829.5" r="1.6" fill="#2c3b44"/><circle cx="1198.5" cy="805.5" r="1.6" fill="#2c3b44"/><circle cx="1192.5" cy="819.0" r="1.6" fill="#2c3b44"/><circle cx="1150.5" cy="811.5" r="1.6" fill="#2c3b44"/><circle cx="1161.0" cy="804.0" r="1.6" fill="#2c3b44"/><circle cx="1179.0" cy="828.0" r="1.6" fill="#2c3b44"/><circle cx="1167.0" cy="826.5" r="1.6" fill="#2c3b44"/><circle cx="1188.0" cy="805.5" r="1.6" fill="#2c3b44"/><circle cx="1197.0" cy="819.0" r="1.6" fill="#2c3b44"/><circle cx="1201.5" cy="822.0" r="1.6" fill="#2c3b44"/><circle cx="1189.5" cy="811.5" r="1.6" fill="#2c3b44"/><circle cx="1194.0" cy="828.0" r="1.6" fill="#2c3b44"/><circle cx="1197.0" cy="814.5" r="1.6" fill="#2c3b44"/><circle cx="1191.0" cy="816.0" r="1.6" fill="#2c3b44"/><circle cx="1153.5" cy="802.5" r="1.6" fill="#2c3b44"/><circle cx="1152.0" cy="807.0" r="1.6" fill="#2c3b44"/><circle cx="1156.5" cy="816.0" r="1.6" fill="#2c3b44"/><circle cx="1188.0" cy="817.5" r="1.6" fill="#2c3b44"/><circle cx="1171.5" cy="820.5" r="1.6" fill="#2c3b44"/><circle cx="1165.5" cy="814.5" r="1.6" fill="#2c3b44"/><circle cx="1191.0" cy="813.0" r="1.6" fill="#2c3b44"/><circle cx="1158.0" cy="826.5" r="1.6" fill="#2c3b44"/><circle cx="1189.5" cy="813.0" r="1.6" fill="#2c3b44"/><circle cx="1168.5" cy="817.5" r="1.6" fill="#2c3b44"/><circle cx="1182.0" cy="808.5" r="1.6" fill="#2c3b44"/><circle cx="1147.5" cy="808.5" r="1.6" fill="#2c3b44"/><circle cx="1192.5" cy="805.5" r="1.6" fill="#2c3b44"/><circle cx="1174.5" cy="807.0" r="1.6" fill="#2c3b44"/><circle cx="1159.5" cy="807.0" r="1.6" fill="#2c3b44"/><circle cx="1171.5" cy="807.0" r="1.6" fill="#2c3b44"/><circle cx="1149.0" cy="805.5" r="1.6" fill="#2c3b44"/><circle cx="1158.0" cy="816.0" r="1.6" fill="#2c3b44"/><circle cx="1152.0" cy="802.5" r="1.6" fill="#2c3b44"/><circle cx="1173.0" cy="813.0" r="1.6" fill="#2c3b44"/><circle cx="1188.0" cy="804.0" r="1.6" fill="#2c3b44"/><circle cx="1171.5" cy="813.0" r="1.6" fill="#2c3b44"/><circle cx="1149.0" cy="829.5" r="1.6" fill="#2c3b44"/><circle cx="1161.0" cy="804.0" r="1.6" fill="#2c3b44"/><circle cx="1174.5" cy="807.0" r="1.6" fill="#2c3b44"/><circle cx="1183.5" cy="811.5" r="1.6" fill="#2c3b44"/><circle cx="1155.0" cy="804.0" r="1.6" fill="#2c3b44"/><circle cx="1189.5" cy="810.0" r="1.6" fill="#2c3b44"/><circle cx="1192.5" cy="814.5" r="1.6" fill="#2c3b44"/><circle cx="1201.5" cy="810.0" r="1.6" fill="#2c3b44"/><circle cx="1162.5" cy="810.0" r="1.6" fill="#2c3b44"/><circle cx="1194.0" cy="819.0" r="1.6" fill="#2c3b44"/><circle cx="1167.0" cy="804.0" r="1.6" fill="#2c3b44"/><circle cx="1186.5" cy="829.5" r="1.6" fill="#2c3b44"/><circle cx="1182.0" cy="802.5" r="1.6" fill="#2c3b44"/><circle cx="1149.0" cy="804.0" r="1.6" fill="#2c3b44"/><circle cx="1158.0" cy="802.5" r="1.6" fill="#2c3b44"/><circle cx="1150.5" cy="820.5" r="1.6" fill="#2c3b44"/><circle cx="1200.0" cy="807.0" r="1.6" fill="#2c3b44"/><circle cx="1203.0" cy="816.0" r="1.6" fill="#2c3b44"/><circle cx="1194.0" cy="828.0" r="1.6" fill="#2c3b44"/><circle cx="1201.5" cy="802.5" r="1.6" fill="#2c3b44"/><circle cx="1165.5" cy="819.0" r="1.6" fill="#2c3b44"/><circle cx="1201.5" cy="804.0" r="1.6" fill="#2c3b44"/><circle cx="1164.0" cy="826.5" r="1.6" fill="#2c3b44"/><circle cx="1155.0" cy="813.0" r="1.6" fill="#2c3b44"/><circle cx="1167.0" cy="820.5" r="1.6" fill="#2c3b44"/><circle cx="1201.5" cy="807.0" r="1.6" fill="#2c3b44"/><circle cx="1189.5" cy="822.0" r="1.6" fill="#2c3b44"/><circle cx="1195.5" cy="817.5" r="1.6" fill="#2c3b44"/><circle cx="1200.0" cy="811.5" r="1.6" fill="#2c3b44"/><circle cx="1171.5" cy="808.5" r="1.6" fill="#2c3b44"/><circle cx="1192.5" cy="816.0" r="1.6" fill="#2c3b44"/><circle cx="1164.0" cy="807.0" r="1.6" fill="#2c3b44"/><circle cx="1189.5" cy="819.0" r="1.6" fill="#2c3b44"/><circle cx="1188.0" cy="813.0" r="1.6" fill="#2c3b44"/><circle cx="1176.0" cy="807.0" r="1.6" fill="#2c3b44"/><circle cx="1188.0" cy="802.5" r="1.6" fill="#2c3b44"/><circle cx="1174.5" cy="823.5" r="1.6" fill="#2c3b44"/><circle cx="1186.5" cy="804.0" r="1.6" fill="#2c3b44"/><circle cx="1161.0" cy="825.0" r="1.6" fill="#2c3b44"/><circle cx="1185.0" cy="826.5" r="1.6" fill="#2c3b44"/><circle cx="1197.0" cy="814.5" r="1.6" fill="#2c3b44"/><circle cx="1198.5" cy="822.0" r="1.6" fill="#2c3b44"/><circle cx="1167.0" cy="813.0" r="1.6" fill="#2c3b44"/><circle cx="1152.0" cy="813.0" r="1.6" fill="#2c3b44"/><circle cx="1203.0" cy="805.5" r="1.6" fill="#2c3b44"/><circle cx="1180.5" cy="805.5" r="1.6" fill="#2c3b44"/><circle cx="1152.0" cy="820.5" r="1.6" fill="#2c3b44"/><circle cx="1161.0" cy="804.0" r="1.6" fill="#2c3b44"/><circle cx="1156.5" cy="820.5" r="1.6" fill="#2c3b44"/><circle cx="1182.0" cy="802.5" r="1.6" fill="#2c3b44"/><circle cx="1161.0" cy="829.5" r="1.6" fill="#2c3b44"/><circle cx="1161.0" cy="817.5" r="1.6" fill="#2c3b44"/><circle cx="1171.5" cy="823.5" r="1.6" fill="#2c3b44"/><circle cx="1182.0" cy="823.5" r="1.6" fill="#2c3b44"/><circle cx="1179.0" cy="807.0" r="1.6" fill="#2c3b44"/><circle cx="1158.0" cy="804.0" r="1.6" fill="#2c3b44"/><circle cx="1195.5" cy="805.5" r="1.6" fill="#2c3b44"/><circle cx="1149.0" cy="829.5" r="1.6" fill="#2c3b44"/><circle cx="1159.5" cy="826.5" r="1.6" fill="#2c3b44"/><circle cx="1207.5" cy="814.5" r="1.6" fill="#2c3b44"/><circle cx="1212.0" cy="825.0" r="1.6" fill="#2c3b44"/><circle cx="1225.5" cy="820.5" r="1.6" fill="#2c3b44"/><circle cx="1230.0" cy="826.5" r="1.6" fill="#2c3b44"/><circle cx="1216.5" cy="819.0" r="1.6" fill="#2c3b44"/><circle cx="1219.5" cy="805.5" r="1.6" fill="#2c3b44"/><circle cx="1233.0" cy="819.0" r="1.6" fill="#2c3b44"/><circle cx="1231.5" cy="808.5" r="1.6" fill="#2c3b44"/><circle cx="1222.5" cy="814.5" r="1.6" fill="#2c3b44"/><circle cx="1228.5" cy="804.0" r="1.6" fill="#2c3b44"/><circle cx="1216.5" cy="816.0" r="1.6" fill="#2c3b44"/><circle cx="1207.5" cy="817.5" r="1.6" fill="#2c3b44"/><circle cx="1230.0" cy="814.5" r="1.6" fill="#2c3b44"/><circle cx="1227.0" cy="819.0" r="1.6" fill="#2c3b44"/><circle cx="1212.0" cy="811.5" r="1.6" fill="#2c3b44"/><circle cx="1237.5" cy="811.5" r="1.6" fill="#2c3b44"/><circle cx="1219.5" cy="804.0" r="1.6" fill="#2c3b44"/><circle cx="1212.0" cy="807.0" r="1.6" fill="#2c3b44"/><circle cx="1201.5" cy="835.5" r="1.6" fill="#2c3b44"/><circle cx="1198.5" cy="838.5" r="1.6" fill="#2c3b44"/><circle cx="1183.5" cy="837.0" r="1.6" fill="#2c3b44"/><circle cx="1179.0" cy="834.0" r="1.6" fill="#2c3b44"/><circle cx="1201.5" cy="837.0" r="1.6" fill="#2c3b44"/><circle cx="1201.5" cy="834.0" r="1.6" fill="#2c3b44"/><circle cx="1192.5" cy="834.0" r="1.6" fill="#2c3b44"/><circle cx="1204.5" cy="837.0" r="1.6" fill="#2c3b44"/><circle cx="1165.5" cy="837.0" r="1.6" fill="#2c3b44"/><circle cx="1159.5" cy="831.0" r="1.6" fill="#2c3b44"/><circle cx="1189.5" cy="832.5" r="1.6" fill="#2c3b44"/><circle cx="1179.0" cy="835.5" r="1.6" fill="#2c3b44"/><circle cx="1152.0" cy="835.5" r="1.6" fill="#2c3b44"/><circle cx="1165.5" cy="834.0" r="1.6" fill="#2c3b44"/><circle cx="1178.7" cy="244.6" r="1.6" fill="#cf5a3a"/><circle cx="1205.8" cy="366.1" r="1.6" fill="#cf5a3a"/><circle cx="1176.4" cy="399.7" r="1.6" fill="#cf5a3a"/><circle cx="1202" cy="394.9" r="1.6" fill="#cf5a3a"/><circle cx="1194" cy="450.8" r="1.6" fill="#cf5a3a"/><circle cx="1215" cy="455.6" r="1.6" fill="#cf5a3a"/><circle cx="1218.5" cy="469.8" r="1.6" fill="#cf5a3a"/><circle cx="1178.7" cy="479.3" r="1.6" fill="#cf5a3a"/><circle cx="1183.6" cy="479.3" r="1.6" fill="#cf5a3a"/><circle cx="1202.4" cy="479.3" r="1.6" fill="#cf5a3a"/><circle cx="1185.8" cy="484.2" r="1.6" fill="#cf5a3a"/><circle cx="1201.1" cy="510.7" r="1.6" fill="#cf5a3a"/><circle cx="1201.1" cy="515" r="1.6" fill="#cf5a3a"/><circle cx="1154.3" cy="523" r="1.6" fill="#cf5a3a"/><circle cx="1192.7" cy="525.7" r="1.6" fill="#cf5a3a"/><circle cx="1194" cy="535.3" r="1.6" fill="#cf5a3a"/><circle cx="1197.5" cy="535.3" r="1.6" fill="#cf5a3a"/><circle cx="1175.1" cy="542" r="1.6" fill="#cf5a3a"/><circle cx="1204.6" cy="542" r="1.6" fill="#cf5a3a"/><circle cx="1185.8" cy="546.1" r="1.6" fill="#cf5a3a"/><circle cx="1179.9" cy="560.6" r="1.6" fill="#cf5a3a"/><circle cx="1190.4" cy="563.2" r="1.6" fill="#cf5a3a"/><circle cx="1178.6" cy="578.8" r="1.6" fill="#cf5a3a"/><circle cx="1202.4" cy="584.4" r="1.6" fill="#cf5a3a"/><circle cx="1147.2" cy="600" r="1.6" fill="#cf5a3a"/><circle cx="1179.9" cy="606.2" r="1.6" fill="#cf5a3a"/><circle cx="1178.6" cy="613.6" r="1.6" fill="#cf5a3a"/><circle cx="1189.2" cy="613.6" r="1.6" fill="#cf5a3a"/><circle cx="1213" cy="615.8" r="1.6" fill="#cf5a3a"/><circle cx="1149.5" cy="621" r="1.6" fill="#cf5a3a"/><circle cx="1201.1" cy="624.3" r="1.6" fill="#2c3b44"/><circle cx="1187.1" cy="636.7" r="1.6" fill="#cf5a3a"/><circle cx="1213" cy="645" r="1.6" fill="#2c3b44"/><circle cx="1142.3" cy="657" r="1.6" fill="#d6cd62"/><circle cx="1153.1" cy="655.7" r="1.6" fill="#2c3b44"/><circle cx="1218.6" cy="663.1" r="1.6" fill="#2c3b44"/><circle cx="1196.2" cy="670" r="1.6" fill="#2c3b44"/><circle cx="1208.2" cy="670" r="1.6" fill="#2c3b44"/><circle cx="1196.2" cy="675.8" r="1.6" fill="#2c3b44"/><circle cx="1199.1" cy="677.4" r="1.6" fill="#2c3b44"/><circle cx="1215.6" cy="679.3" r="1.6" fill="#2c3b44"/><circle cx="1225.6" cy="694.4" r="1.6" fill="#2c3b44"/><circle cx="1239.1" cy="712" r="1.6" fill="#2c3b44"/><circle cx="1254.8" cy="719.6" r="1.6" fill="#2c3b44"/><circle cx="1255.9" cy="735.4" r="1.6" fill="#2c3b44"/><circle cx="1239.1" cy="741.2" r="1.6" fill="#2c3b44"/><circle cx="1254.8" cy="746" r="1.6" fill="#2c3b44"/><circle cx="1270" cy="744.7" r="1.6" fill="#cf5a3a"/><circle cx="1255.9" cy="757.2" r="1.6" fill="#2c3b44"/><circle cx="1243.9" cy="757.2" r="1.6" fill="#2c3b44"/><circle cx="1243.9" cy="760.7" r="1.6" fill="#2c3b44"/><circle cx="1240.7" cy="763.9" r="1.6" fill="#2c3b44"/><circle cx="1244.7" cy="768.3" r="1.6" fill="#2c3b44"/><circle cx="1253.2" cy="770" r="1.6" fill="#2c3b44"/><circle cx="1268.4" cy="768.7" r="1.6" fill="#cf5a3a"/><circle cx="1274.8" cy="777.9" r="1.6" fill="#cf5a3a"/><circle cx="1267.1" cy="783.5" r="1.6" fill="#cf5a3a"/><circle cx="1248.7" cy="786.7" r="1.6" fill="#2c3b44"/><circle cx="1252.7" cy="789.1" r="1.6" fill="#2c3b44"/><circle cx="1249.2" cy="793.1" r="1.6" fill="#2c3b44"/><circle cx="1261.5" cy="795" r="1.6" fill="#2c3b44"/><circle cx="1264.4" cy="795" r="1.6" fill="#2c3b44"/><circle cx="1252.7" cy="799.8" r="1.6" fill="#2c3b44"/><circle cx="1252.7" cy="802.2" r="1.6" fill="#2c3b44"/><circle cx="1251.1" cy="805.1" r="1.6" fill="#2c3b44"/><circle cx="1247.9" cy="807.3" r="1.6" fill="#2c3b44"/><circle cx="1266.3" cy="803.8" r="1.6" fill="#2c3b44"/><circle cx="1260.7" cy="812.6" r="1.6" fill="#2c3b44"/><circle cx="1262.3" cy="814.2" r="1.6" fill="#2c3b44"/><circle cx="1259.9" cy="815" r="1.6" fill="#2c3b44"/><circle cx="1254.8" cy="815.8" r="1.6" fill="#2c3b44"/><circle cx="1270" cy="815.8" r="1.6" fill="#2c3b44"/><circle cx="1252.7" cy="824.6" r="1.6" fill="#2c3b44"/><circle cx="1285.5" cy="824.6" r="1.6" fill="#cf5a3a"/><circle cx="1145.4" cy="697.4" r="1.6" fill="#d6cd62"/><circle cx="1136" cy="763.9" r="1.6" fill="#d6cd62"/><circle cx="1129.7" cy="769" r="1.6" fill="#d6cd62"/><circle cx="1140.5" cy="783.4" r="1.6" fill="#d6cd62"/><circle cx="1140.5" cy="798.6" r="1.6" fill="#d6cd62"/><circle cx="1149" cy="797" r="1.6" fill="#d6cd62"/><circle cx="1134.4" cy="811.9" r="1.6" fill="#d6cd62"/><circle cx="1137.3" cy="813.2" r="1.6" fill="#d6cd62"/><circle cx="1140.5" cy="811.3" r="1.6" fill="#d6cd62"/><circle cx="1132.9" cy="827.8" r="1.6" fill="#d6cd62"/><circle cx="1140.5" cy="826.8" r="1.6" fill="#d6cd62"/><circle cx="1147.7" cy="827.8" r="1.6" fill="#d6cd62"/><circle cx="1127.8" cy="833.7" r="1.6" fill="#d6cd62"/><circle cx="1142" cy="832.7" r="1.6" fill="#d6cd62"/><circle cx="1171.8" cy="690.2" r="1.6" fill="#2c3b44"/><circle cx="1171.8" cy="714.9" r="1.6" fill="#2c3b44"/><circle cx="1142.4" cy="729.3" r="1.6" fill="#2c3b44"/><circle cx="1141" cy="769" r="1.6" fill="#2c3b44"/><circle cx="1132.9" cy="783.4" r="1.6" fill="#2c3b44"/><circle cx="1135.9" cy="784.2" r="1.6" fill="#2c3b44"/><circle cx="1149" cy="778.1" r="1.6" fill="#2c3b44"/><circle cx="1137.6" cy="790.4" r="1.6" fill="#2c3b44"/><circle cx="1135.9" cy="801.2" r="1.6" fill="#2c3b44"/><circle cx="1139.2" cy="804.6" r="1.6" fill="#2c3b44"/><circle cx="1143" cy="807.5" r="1.6" fill="#2c3b44"/><circle cx="1136.3" cy="815" r="1.6" fill="#2c3b44"/><circle cx="1135" cy="816.4" r="1.6" fill="#2c3b44"/><circle cx="1142.4" cy="818.3" r="1.6" fill="#2c3b44"/><circle cx="1150.5" cy="821.7" r="1.6" fill="#2c3b44"/><circle cx="1147.7" cy="830.3" r="1.6" fill="#2c3b44"/><circle cx="1151.5" cy="833.7" r="1.6" fill="#2c3b44"/></svg>
</body></html>
